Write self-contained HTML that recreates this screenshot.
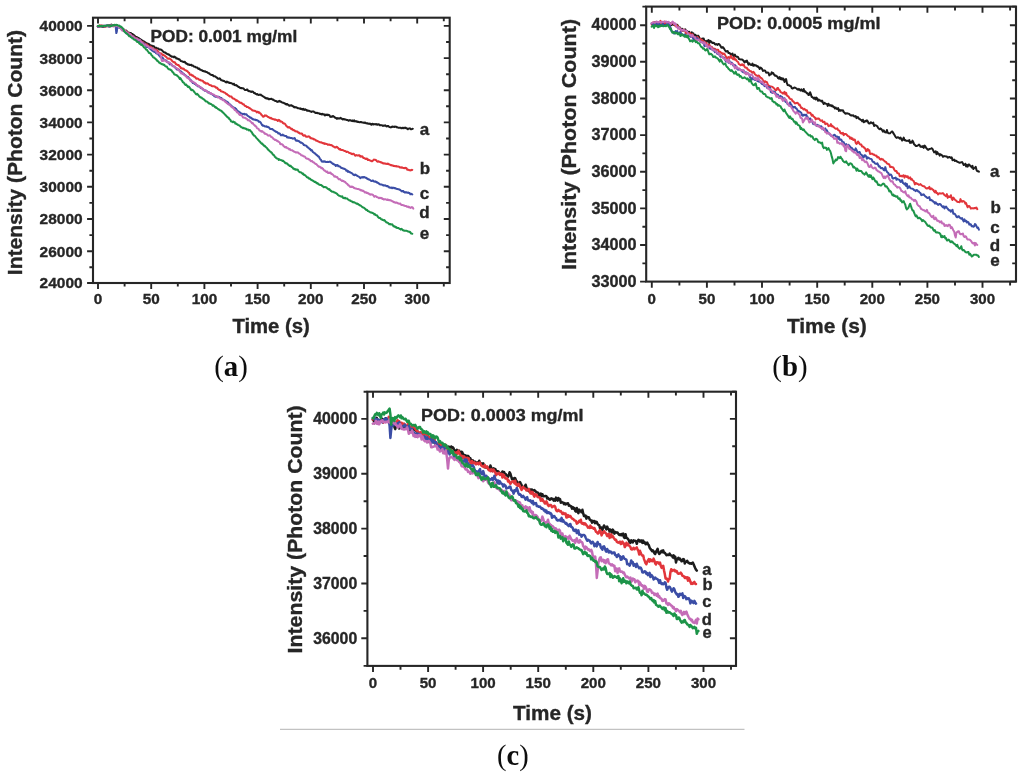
<!DOCTYPE html>
<html><head><meta charset="utf-8"><title>POD intensity decay</title>
<style>html,body{margin:0;padding:0;background:#fff;overflow:hidden}svg{display:block}.s{font-family:"Liberation Sans",sans-serif;font-weight:bold}.r{font-family:"Liberation Serif",serif}</style>
</head><body>
<svg width="1024" height="774" viewBox="0 0 1024 774">
<rect width="1024" height="774" fill="#fff"/>
<defs><filter id="soft" x="0" y="0" width="1024" height="774" filterUnits="userSpaceOnUse"><feGaussianBlur stdDeviation="0.45"/></filter></defs>
<g filter="url(#soft)">
<g id="pa">
<rect x="93.0" y="17.7" width="356.7" height="265.3" fill="none" stroke="#262626" stroke-width="2.10"/>
<path d="M98.0 283.0v5.9M98.0 17.7v5.9M151.2 283.0v5.9M151.2 17.7v5.9M204.4 283.0v5.9M204.4 17.7v5.9M257.6 283.0v5.9M257.6 17.7v5.9M310.8 283.0v5.9M310.8 17.7v5.9M364.0 283.0v5.9M364.0 17.7v5.9M417.2 283.0v5.9M417.2 17.7v5.9M124.6 283.0v3.6M124.6 17.7v3.6M177.8 283.0v3.6M177.8 17.7v3.6M231.0 283.0v3.6M231.0 17.7v3.6M284.2 283.0v3.6M284.2 17.7v3.6M337.4 283.0v3.6M337.4 17.7v3.6M390.6 283.0v3.6M390.6 17.7v3.6M443.8 283.0v3.6M443.8 17.7v3.6M93.0 283.0h-5.9M449.7 283.0h-5.9M93.0 251.2h-5.9M449.7 251.2h-5.9M93.0 219.0h-5.9M449.7 219.0h-5.9M93.0 186.8h-5.9M449.7 186.8h-5.9M93.0 154.6h-5.9M449.7 154.6h-5.9M93.0 122.4h-5.9M449.7 122.4h-5.9M93.0 90.3h-5.9M449.7 90.3h-5.9M93.0 58.1h-5.9M449.7 58.1h-5.9M93.0 25.9h-5.9M449.7 25.9h-5.9M93.0 267.2h-3.6M449.7 267.2h-3.6M93.0 235.1h-3.6M449.7 235.1h-3.6M93.0 202.9h-3.6M449.7 202.9h-3.6M93.0 170.7h-3.6M449.7 170.7h-3.6M93.0 138.5h-3.6M449.7 138.5h-3.6M93.0 106.3h-3.6M449.7 106.3h-3.6M93.0 74.2h-3.6M449.7 74.2h-3.6M93.0 42.0h-3.6M449.7 42.0h-3.6" stroke="#262626" stroke-width="1.90" fill="none"/>
<text class="s" stroke="#262626" stroke-width="0.35" x="82.6" y="288.4" font-size="15.5" text-anchor="end" fill="#262626" textLength="43.0" lengthAdjust="spacingAndGlyphs">24000</text>
<text class="s" stroke="#262626" stroke-width="0.35" x="82.6" y="256.6" font-size="15.5" text-anchor="end" fill="#262626" textLength="43.0" lengthAdjust="spacingAndGlyphs">26000</text>
<text class="s" stroke="#262626" stroke-width="0.35" x="82.6" y="224.4" font-size="15.5" text-anchor="end" fill="#262626" textLength="43.0" lengthAdjust="spacingAndGlyphs">28000</text>
<text class="s" stroke="#262626" stroke-width="0.35" x="82.6" y="192.2" font-size="15.5" text-anchor="end" fill="#262626" textLength="43.0" lengthAdjust="spacingAndGlyphs">30000</text>
<text class="s" stroke="#262626" stroke-width="0.35" x="82.6" y="160.0" font-size="15.5" text-anchor="end" fill="#262626" textLength="43.0" lengthAdjust="spacingAndGlyphs">32000</text>
<text class="s" stroke="#262626" stroke-width="0.35" x="82.6" y="127.8" font-size="15.5" text-anchor="end" fill="#262626" textLength="43.0" lengthAdjust="spacingAndGlyphs">34000</text>
<text class="s" stroke="#262626" stroke-width="0.35" x="82.6" y="95.7" font-size="15.5" text-anchor="end" fill="#262626" textLength="43.0" lengthAdjust="spacingAndGlyphs">36000</text>
<text class="s" stroke="#262626" stroke-width="0.35" x="82.6" y="63.5" font-size="15.5" text-anchor="end" fill="#262626" textLength="43.0" lengthAdjust="spacingAndGlyphs">38000</text>
<text class="s" stroke="#262626" stroke-width="0.35" x="82.6" y="31.3" font-size="15.5" text-anchor="end" fill="#262626" textLength="43.0" lengthAdjust="spacingAndGlyphs">40000</text>
<text class="s" stroke="#262626" stroke-width="0.35" x="98.0" y="304.3" font-size="15.2" text-anchor="middle" fill="#262626" textLength="8.5" lengthAdjust="spacingAndGlyphs">0</text>
<text class="s" stroke="#262626" stroke-width="0.35" x="151.2" y="304.3" font-size="15.2" text-anchor="middle" fill="#262626" textLength="17.0" lengthAdjust="spacingAndGlyphs">50</text>
<text class="s" stroke="#262626" stroke-width="0.35" x="204.4" y="304.3" font-size="15.2" text-anchor="middle" fill="#262626" textLength="25.5" lengthAdjust="spacingAndGlyphs">100</text>
<text class="s" stroke="#262626" stroke-width="0.35" x="257.6" y="304.3" font-size="15.2" text-anchor="middle" fill="#262626" textLength="25.5" lengthAdjust="spacingAndGlyphs">150</text>
<text class="s" stroke="#262626" stroke-width="0.35" x="310.8" y="304.3" font-size="15.2" text-anchor="middle" fill="#262626" textLength="25.5" lengthAdjust="spacingAndGlyphs">200</text>
<text class="s" stroke="#262626" stroke-width="0.35" x="364.0" y="304.3" font-size="15.2" text-anchor="middle" fill="#262626" textLength="25.5" lengthAdjust="spacingAndGlyphs">250</text>
<text class="s" stroke="#262626" stroke-width="0.35" x="417.2" y="304.3" font-size="15.2" text-anchor="middle" fill="#262626" textLength="25.5" lengthAdjust="spacingAndGlyphs">300</text>
<text class="s" stroke="#262626" stroke-width="0.35" x="21.9" y="275.2" font-size="20.5" text-anchor="start" fill="#262626" textLength="245.2" lengthAdjust="spacingAndGlyphs" transform="rotate(-90 21.9 275.2)">Intensity (Photon Count)</text>
<text class="s" stroke="#262626" stroke-width="0.35" x="232.4" y="332.7" font-size="19.5" text-anchor="start" fill="#262626" textLength="77.5" lengthAdjust="spacingAndGlyphs">Time (s)</text>
<text class="s" stroke="#262626" stroke-width="0.35" x="150.6" y="41.7" font-size="16.2" text-anchor="start" fill="#262626" textLength="146.6" lengthAdjust="spacingAndGlyphs">POD: 0.001 mg/ml</text>
<path d="M97.8,26.7 L98.3,26.9 L98.8,26.9 L99.3,26.4 L99.8,26.3 L100.3,26.4 L100.8,26.5 L101.3,26.4 L101.8,26.5 L102.3,26.9 L102.8,26.6 L103.3,26.5 L103.8,26.9 L104.3,26.2 L104.8,26.3 L105.3,26.3 L105.8,26.4 L106.3,26.2 L106.8,25.7 L107.3,25.4 L107.8,25.5 L108.3,25.5 L108.8,25.5 L109.3,25.0 L109.8,25.0 L110.3,25.4 L110.8,25.3 L111.3,24.5 L111.8,25.1 L112.3,25.2 L112.8,25.4 L113.3,25.1 L113.8,26.0 L114.3,25.7 L114.8,25.0 L115.3,25.2 L115.8,25.4 L116.3,25.3 L116.8,25.1 L117.3,26.0 L117.8,26.3 L118.3,26.9 L118.8,26.9 L119.3,27.0 L119.8,27.4 L120.3,27.5 L120.8,27.5 L121.3,27.8 L121.8,28.8 L122.3,29.1 L122.8,29.4 L123.3,29.0 L123.8,29.6 L124.3,30.3 L124.8,30.7 L125.3,31.2 L125.8,30.7 L126.3,30.6 L126.8,31.2 L127.3,31.7 L127.8,32.6 L128.3,32.9 L128.8,32.8 L129.3,32.8 L129.8,33.0 L130.3,32.9 L130.8,32.9 L131.3,33.7 L131.8,34.0 L132.3,33.9 L132.8,34.3 L133.3,35.0 L133.8,35.0 L134.3,35.5 L134.8,36.0 L135.3,36.5 L135.8,37.0 L136.3,37.0 L136.8,37.1 L137.3,37.4 L137.8,37.8 L138.3,37.9 L138.8,38.0 L139.3,38.8 L139.8,39.1 L140.3,39.1 L140.8,39.6 L141.3,39.9 L141.8,40.4 L142.3,40.5 L142.8,41.1 L143.3,41.4 L143.8,41.3 L144.3,41.6 L144.8,42.1 L145.3,42.4 L145.8,42.8 L146.3,42.9 L146.8,43.4 L147.3,43.5 L147.8,43.6 L148.3,44.0 L148.8,44.1 L149.3,44.3 L149.8,45.1 L150.3,45.1 L150.8,45.8 L151.3,46.0 L151.8,45.6 L152.3,46.0 L152.8,46.2 L153.3,46.4 L153.8,46.2 L154.3,46.7 L154.8,47.6 L155.3,48.0 L155.8,47.9 L156.3,47.8 L156.8,48.3 L157.3,48.6 L157.8,48.4 L158.3,48.4 L158.8,49.0 L159.3,49.5 L159.8,49.4 L160.3,49.6 L160.8,49.4 L161.3,49.9 L161.8,50.3 L162.3,50.5 L162.8,51.3 L163.3,51.7 L163.8,52.2 L164.3,52.2 L164.8,52.6 L165.3,52.5 L165.8,53.0 L166.3,53.5 L166.8,53.5 L167.3,54.3 L167.8,54.3 L168.3,54.3 L168.8,54.3 L169.3,55.1 L169.8,55.4 L170.3,55.5 L170.8,56.1 L171.3,56.2 L171.8,56.7 L172.3,56.5 L172.8,56.8 L173.3,56.7 L173.8,57.3 L174.3,56.5 L174.8,57.1 L175.3,57.3 L175.8,57.5 L176.3,58.6 L176.8,58.5 L177.3,58.4 L177.8,58.8 L178.3,59.2 L178.8,59.5 L179.3,59.3 L179.8,59.8 L180.3,60.2 L180.8,61.1 L181.3,61.0 L181.8,61.3 L182.3,61.4 L182.8,61.8 L183.3,61.7 L183.8,62.1 L184.3,62.0 L184.8,61.8 L185.3,62.8 L185.8,62.7 L186.3,63.7 L186.8,63.8 L187.3,63.7 L187.8,64.5 L188.3,64.2 L188.8,64.6 L189.3,65.0 L189.8,64.8 L190.3,65.0 L190.8,65.1 L191.3,64.7 L191.8,65.6 L192.3,65.4 L192.8,65.4 L193.3,66.1 L193.8,66.6 L194.3,66.5 L194.8,66.8 L195.3,66.8 L195.8,67.4 L196.3,67.4 L196.8,67.4 L197.3,67.7 L197.8,68.3 L198.3,68.8 L198.8,68.9 L199.3,68.6 L199.8,69.5 L200.3,69.4 L200.8,69.9 L201.3,70.3 L201.8,70.3 L202.3,70.5 L202.8,71.1 L203.3,70.9 L203.8,70.9 L204.3,71.6 L204.8,71.4 L205.3,71.3 L205.8,72.0 L206.3,72.0 L206.8,72.0 L207.3,72.4 L207.8,72.8 L208.3,73.2 L208.8,73.5 L209.3,73.2 L209.8,74.0 L210.3,74.4 L210.8,74.6 L211.3,75.0 L211.8,75.0 L212.3,75.0 L212.8,75.1 L213.3,76.0 L213.8,76.2 L214.3,76.2 L214.8,76.2 L215.3,76.5 L215.8,76.9 L216.3,77.4 L216.8,77.5 L217.3,78.0 L217.8,78.8 L218.3,78.8 L218.8,78.6 L219.3,78.8 L219.8,78.4 L220.3,78.9 L220.8,79.8 L221.3,80.3 L221.8,80.3 L222.3,80.4 L222.8,80.8 L223.3,80.8 L223.8,81.0 L224.3,81.0 L224.8,81.5 L225.3,81.8 L225.8,82.1 L226.3,82.5 L226.8,81.6 L227.3,82.2 L227.8,81.9 L228.3,82.4 L228.8,82.5 L229.3,82.9 L229.8,82.8 L230.3,82.9 L230.8,83.0 L231.3,83.2 L231.8,83.4 L232.3,83.7 L232.8,83.9 L233.3,84.5 L233.8,83.7 L234.3,84.4 L234.8,85.1 L235.3,85.3 L235.8,85.2 L236.3,85.1 L236.8,85.8 L237.3,85.7 L237.8,86.3 L238.3,86.9 L238.8,86.9 L239.3,87.2 L239.8,87.6 L240.3,88.0 L240.8,88.0 L241.3,88.2 L241.8,88.0 L242.3,88.3 L242.8,88.2 L243.3,88.4 L243.8,88.8 L244.3,89.4 L244.8,89.9 L245.3,90.0 L245.8,90.1 L246.3,90.0 L246.8,89.6 L247.3,89.5 L247.8,90.1 L248.3,91.1 L248.8,90.9 L249.3,91.0 L249.8,91.3 L250.3,91.5 L250.8,91.4 L251.3,92.0 L251.8,91.5 L252.3,91.6 L252.8,91.7 L253.3,91.9 L253.8,92.8 L254.3,93.1 L254.8,92.9 L255.3,93.7 L255.8,93.9 L256.3,94.0 L256.8,94.4 L257.3,94.0 L257.8,94.6 L258.3,94.9 L258.8,95.1 L259.3,94.6 L259.8,94.8 L260.3,94.8 L260.8,94.6 L261.3,95.3 L261.8,95.5 L262.3,95.8 L262.8,96.1 L263.3,96.6 L263.8,96.8 L264.3,97.1 L264.8,97.6 L265.3,98.0 L265.8,97.7 L266.3,98.6 L266.8,98.5 L267.3,98.2 L267.8,98.4 L268.3,99.1 L268.8,98.7 L269.3,99.2 L269.8,99.2 L270.3,98.9 L270.8,99.0 L271.3,98.8 L271.8,99.0 L272.3,99.3 L272.8,99.8 L273.3,99.6 L273.8,100.2 L274.3,100.5 L274.8,100.6 L275.3,101.1 L275.8,100.9 L276.3,101.2 L276.8,101.5 L277.3,101.9 L277.8,101.7 L278.3,101.8 L278.8,101.0 L279.3,101.1 L279.8,100.9 L280.3,101.8 L280.8,101.8 L281.3,101.7 L281.8,102.2 L282.3,102.6 L282.8,102.7 L283.3,102.7 L283.8,103.0 L284.3,103.2 L284.8,103.6 L285.3,103.6 L285.8,104.3 L286.3,104.0 L286.8,104.6 L287.3,104.0 L287.8,104.7 L288.3,104.9 L288.8,105.1 L289.3,105.8 L289.8,105.8 L290.3,105.4 L290.8,105.3 L291.3,105.3 L291.8,105.5 L292.3,106.0 L292.8,106.0 L293.3,106.6 L293.8,107.1 L294.3,106.8 L294.8,107.4 L295.3,107.3 L295.8,107.1 L296.3,107.5 L296.8,107.6 L297.3,107.9 L297.8,108.3 L298.3,108.2 L298.8,108.3 L299.3,108.4 L299.8,108.7 L300.3,108.4 L300.8,109.0 L301.3,108.8 L301.8,109.2 L302.3,109.1 L302.8,109.7 L303.3,108.8 L303.8,109.1 L304.3,109.8 L304.8,109.9 L305.3,109.4 L305.8,109.8 L306.3,110.0 L306.8,110.6 L307.3,110.8 L307.8,110.4 L308.3,110.9 L308.8,110.7 L309.3,110.9 L309.8,111.1 L310.3,111.5 L310.8,111.4 L311.3,111.9 L311.8,111.5 L312.3,111.6 L312.8,111.5 L313.3,111.5 L313.8,111.6 L314.3,112.2 L314.8,112.2 L315.3,112.9 L315.8,113.1 L316.3,112.9 L316.8,112.8 L317.3,113.0 L317.8,113.2 L318.3,113.2 L318.8,113.3 L319.3,113.5 L319.8,113.9 L320.3,113.9 L320.8,113.8 L321.3,114.3 L321.8,114.4 L322.3,113.8 L322.8,114.3 L323.3,114.6 L323.8,114.2 L324.3,114.4 L324.8,115.4 L325.3,115.3 L325.8,114.6 L326.3,114.8 L326.8,115.0 L327.3,114.6 L327.8,115.1 L328.3,114.8 L328.8,114.9 L329.3,115.3 L329.8,115.8 L330.3,116.9 L330.8,116.7 L331.3,116.7 L331.8,116.9 L332.3,116.1 L332.8,116.4 L333.3,116.0 L333.8,116.8 L334.3,116.8 L334.8,117.6 L335.3,117.6 L335.8,118.0 L336.3,118.1 L336.8,118.8 L337.3,118.7 L337.8,118.0 L338.3,118.4 L338.8,118.5 L339.3,118.4 L339.8,118.5 L340.3,117.9 L340.8,118.3 L341.3,118.2 L341.8,118.8 L342.3,119.0 L342.8,119.4 L343.3,119.0 L343.8,119.1 L344.3,119.4 L344.8,119.3 L345.3,119.4 L345.8,119.5 L346.3,119.9 L346.8,120.1 L347.3,120.1 L347.8,120.0 L348.3,120.7 L348.8,120.7 L349.3,120.3 L349.8,120.0 L350.3,120.3 L350.8,120.5 L351.3,120.7 L351.8,121.0 L352.3,120.5 L352.8,120.4 L353.3,121.2 L353.8,120.7 L354.3,120.4 L354.8,121.4 L355.3,121.4 L355.8,121.2 L356.3,121.3 L356.8,121.7 L357.3,121.5 L357.8,121.9 L358.3,121.8 L358.8,122.1 L359.3,122.2 L359.8,122.3 L360.3,122.2 L360.8,121.9 L361.3,122.0 L361.8,122.3 L362.3,122.6 L362.8,122.6 L363.3,122.5 L363.8,122.8 L364.3,122.9 L364.8,122.6 L365.3,122.6 L365.8,123.2 L366.3,123.2 L366.8,123.5 L367.3,123.2 L367.8,123.5 L368.3,123.8 L368.8,123.6 L369.3,123.7 L369.8,124.0 L370.3,123.8 L370.8,123.8 L371.3,124.7 L371.8,124.5 L372.3,123.7 L372.8,124.1 L373.3,124.5 L373.8,124.0 L374.3,124.2 L374.8,124.3 L375.3,124.1 L375.8,124.4 L376.3,124.4 L376.8,124.0 L377.3,124.8 L377.8,124.5 L378.3,124.5 L378.8,124.3 L379.3,124.6 L379.8,125.3 L380.3,125.3 L380.8,125.1 L381.3,125.3 L381.8,125.2 L382.3,125.4 L382.8,125.9 L383.3,125.6 L383.8,125.7 L384.3,125.8 L384.8,125.4 L385.3,125.3 L385.8,125.9 L386.3,126.3 L386.8,126.4 L387.3,126.2 L387.8,125.9 L388.3,126.0 L388.8,126.6 L389.3,126.9 L389.8,126.9 L390.3,127.4 L390.8,127.2 L391.3,127.3 L391.8,126.8 L392.3,126.6 L392.8,126.9 L393.3,126.7 L393.8,126.8 L394.3,127.0 L394.8,126.5 L395.3,126.8 L395.8,126.6 L396.3,126.9 L396.8,127.4 L397.3,127.2 L397.8,127.5 L398.3,127.8 L398.8,127.7 L399.3,127.7 L399.8,127.7 L400.3,127.7 L400.8,127.7 L401.3,128.3 L401.8,128.3 L402.3,128.0 L402.8,127.8 L403.3,128.0 L403.8,128.3 L404.3,127.7 L404.8,127.7 L405.3,128.0 L405.8,127.8 L406.3,128.3 L406.8,128.5 L407.3,128.5 L407.8,129.3 L408.3,128.8 L408.8,128.6 L409.3,128.6 L409.8,128.3 L410.3,128.8 L410.8,129.2 L411.3,129.3 L411.8,129.1 L412.3,129.0 L412.8,128.7" fill="none" stroke="#1d1d1d" stroke-width="2.00" stroke-linejoin="round" stroke-linecap="round"/>
<path d="M97.8,26.2 L98.3,26.6 L98.8,26.3 L99.3,26.2 L99.8,25.4 L100.3,25.7 L100.8,25.5 L101.3,25.6 L101.8,25.9 L102.3,25.6 L102.8,25.7 L103.3,26.4 L103.8,26.5 L104.3,26.9 L104.8,26.8 L105.3,26.2 L105.8,25.9 L106.3,25.9 L106.8,26.1 L107.3,26.4 L107.8,26.1 L108.3,25.6 L108.8,25.9 L109.3,26.2 L109.8,26.6 L110.3,26.2 L110.8,25.8 L111.3,25.4 L111.8,25.3 L112.3,25.5 L112.8,26.3 L113.3,26.2 L113.8,25.7 L114.3,25.8 L114.8,24.8 L115.3,25.1 L115.8,25.6 L116.3,25.3 L116.8,25.8 L117.3,25.7 L117.8,25.9 L118.3,26.0 L118.8,26.6 L119.3,27.0 L119.8,27.1 L120.3,27.8 L120.8,27.9 L121.3,27.8 L121.8,28.5 L122.3,28.7 L122.8,28.8 L123.3,29.5 L123.8,30.0 L124.3,30.2 L124.8,30.3 L125.3,31.2 L125.8,31.1 L126.3,31.6 L126.8,32.3 L127.3,32.3 L127.8,32.6 L128.3,33.0 L128.8,33.6 L129.3,33.5 L129.8,33.8 L130.3,34.1 L130.8,34.8 L131.3,35.3 L131.8,35.6 L132.3,36.4 L132.8,36.0 L133.3,36.1 L133.8,36.9 L134.3,37.1 L134.8,37.7 L135.3,38.3 L135.8,37.9 L136.3,38.5 L136.8,38.6 L137.3,39.0 L137.8,39.8 L138.3,39.7 L138.8,40.1 L139.3,39.9 L139.8,40.9 L140.3,40.8 L140.8,41.2 L141.3,41.5 L141.8,42.3 L142.3,42.5 L142.8,42.1 L143.3,42.5 L143.8,43.0 L144.3,43.3 L144.8,43.9 L145.3,43.7 L145.8,44.1 L146.3,44.5 L146.8,45.0 L147.3,44.6 L147.8,45.7 L148.3,46.4 L148.8,46.6 L149.3,46.8 L149.8,46.5 L150.3,46.4 L150.8,46.9 L151.3,47.2 L151.8,47.6 L152.3,48.1 L152.8,48.7 L153.3,49.1 L153.8,49.4 L154.3,49.7 L154.8,49.6 L155.3,49.4 L155.8,49.4 L156.3,49.9 L156.8,50.2 L157.3,50.5 L157.8,51.1 L158.3,52.3 L158.8,52.3 L159.3,53.1 L159.8,53.3 L160.3,53.3 L160.8,53.4 L161.3,53.4 L161.8,54.2 L162.3,54.4 L162.8,55.0 L163.3,54.9 L163.8,55.3 L164.3,55.5 L164.8,55.7 L165.3,56.3 L165.8,56.6 L166.3,57.0 L166.8,57.6 L167.3,58.1 L167.8,58.7 L168.3,58.7 L168.8,58.5 L169.3,58.4 L169.8,58.7 L170.3,59.1 L170.8,59.4 L171.3,59.9 L171.8,60.5 L172.3,61.1 L172.8,61.7 L173.3,61.7 L173.8,62.2 L174.3,62.4 L174.8,62.2 L175.3,62.8 L175.8,64.2 L176.3,64.4 L176.8,64.3 L177.3,65.0 L177.8,64.9 L178.3,65.0 L178.8,65.2 L179.3,66.4 L179.8,66.6 L180.3,66.9 L180.8,68.0 L181.3,68.1 L181.8,68.2 L182.3,68.7 L182.8,68.5 L183.3,68.7 L183.8,68.8 L184.3,69.7 L184.8,69.9 L185.3,70.2 L185.8,70.4 L186.3,70.4 L186.8,71.0 L187.3,71.0 L187.8,71.7 L188.3,72.2 L188.8,72.8 L189.3,73.0 L189.8,74.7 L190.3,74.5 L190.8,74.8 L191.3,74.5 L191.8,75.4 L192.3,75.7 L192.8,75.4 L193.3,76.1 L193.8,76.5 L194.3,76.7 L194.8,76.8 L195.3,77.4 L195.8,78.0 L196.3,78.8 L196.8,78.6 L197.3,78.4 L197.8,78.8 L198.3,78.7 L198.8,79.5 L199.3,79.8 L199.8,79.9 L200.3,79.8 L200.8,80.4 L201.3,80.5 L201.8,80.6 L202.3,80.8 L202.8,80.7 L203.3,81.8 L203.8,82.0 L204.3,82.8 L204.8,82.4 L205.3,83.1 L205.8,83.6 L206.3,83.3 L206.8,83.4 L207.3,83.3 L207.8,83.7 L208.3,83.8 L208.8,84.5 L209.3,84.8 L209.8,85.1 L210.3,85.2 L210.8,85.2 L211.3,85.4 L211.8,86.1 L212.3,86.2 L212.8,86.2 L213.3,86.2 L213.8,86.2 L214.3,86.5 L214.8,86.5 L215.3,87.1 L215.8,87.7 L216.3,87.6 L216.8,87.5 L217.3,87.8 L217.8,89.0 L218.3,89.2 L218.8,89.5 L219.3,90.1 L219.8,90.1 L220.3,90.0 L220.8,91.2 L221.3,91.3 L221.8,91.4 L222.3,91.8 L222.8,91.8 L223.3,91.9 L223.8,92.3 L224.3,92.6 L224.8,92.7 L225.3,92.9 L225.8,93.6 L226.3,94.0 L226.8,94.0 L227.3,94.6 L227.8,95.0 L228.3,95.2 L228.8,95.7 L229.3,95.9 L229.8,96.5 L230.3,96.6 L230.8,96.5 L231.3,96.5 L231.8,97.1 L232.3,97.8 L232.8,98.5 L233.3,98.4 L233.8,98.7 L234.3,98.8 L234.8,99.5 L235.3,99.5 L235.8,100.0 L236.3,100.8 L236.8,100.3 L237.3,100.8 L237.8,101.1 L238.3,101.3 L238.8,101.6 L239.3,102.4 L239.8,102.6 L240.3,102.9 L240.8,102.7 L241.3,102.7 L241.8,103.3 L242.3,103.8 L242.8,104.2 L243.3,104.2 L243.8,104.3 L244.3,105.1 L244.8,105.8 L245.3,105.9 L245.8,105.9 L246.3,106.4 L246.8,107.1 L247.3,107.0 L247.8,107.1 L248.3,107.3 L248.8,107.8 L249.3,108.0 L249.8,108.2 L250.3,108.7 L250.8,109.0 L251.3,109.3 L251.8,109.7 L252.3,110.3 L252.8,110.6 L253.3,110.6 L253.8,110.7 L254.3,110.8 L254.8,110.7 L255.3,111.2 L255.8,111.5 L256.3,111.4 L256.8,112.4 L257.3,111.8 L257.8,111.7 L258.3,112.1 L258.8,112.8 L259.3,112.4 L259.8,113.0 L260.3,113.4 L260.8,113.8 L261.3,114.8 L261.8,115.0 L262.3,115.7 L262.8,116.5 L263.3,116.8 L263.8,116.6 L264.3,116.0 L264.8,115.3 L265.3,115.8 L265.8,115.6 L266.3,115.6 L266.8,116.0 L267.3,116.4 L267.8,116.9 L268.3,116.9 L268.8,117.1 L269.3,117.7 L269.8,117.9 L270.3,118.2 L270.8,117.7 L271.3,118.4 L271.8,118.8 L272.3,118.8 L272.8,119.0 L273.3,119.2 L273.8,119.2 L274.3,119.5 L274.8,119.7 L275.3,119.6 L275.8,119.6 L276.3,120.1 L276.8,119.9 L277.3,120.4 L277.8,121.0 L278.3,120.5 L278.8,119.9 L279.3,120.2 L279.8,120.5 L280.3,121.6 L280.8,121.3 L281.3,121.6 L281.8,121.7 L282.3,122.1 L282.8,122.9 L283.3,123.3 L283.8,123.6 L284.3,123.4 L284.8,123.8 L285.3,124.2 L285.8,125.1 L286.3,125.9 L286.8,126.1 L287.3,126.8 L287.8,127.4 L288.3,127.4 L288.8,127.0 L289.3,127.2 L289.8,127.6 L290.3,128.2 L290.8,128.5 L291.3,129.1 L291.8,128.6 L292.3,129.4 L292.8,129.7 L293.3,130.2 L293.8,130.1 L294.3,130.3 L294.8,130.8 L295.3,131.3 L295.8,131.3 L296.3,131.5 L296.8,131.4 L297.3,131.5 L297.8,132.0 L298.3,132.7 L298.8,132.5 L299.3,133.1 L299.8,133.5 L300.3,133.4 L300.8,133.4 L301.3,133.8 L301.8,133.5 L302.3,134.0 L302.8,135.1 L303.3,135.5 L303.8,135.8 L304.3,135.3 L304.8,135.3 L305.3,135.4 L305.8,136.5 L306.3,136.8 L306.8,136.8 L307.3,136.8 L307.8,136.7 L308.3,136.3 L308.8,136.6 L309.3,136.6 L309.8,136.9 L310.3,138.0 L310.8,138.2 L311.3,138.1 L311.8,138.6 L312.3,138.6 L312.8,138.5 L313.3,139.1 L313.8,139.4 L314.3,139.3 L314.8,139.5 L315.3,139.8 L315.8,140.1 L316.3,140.8 L316.8,140.7 L317.3,140.9 L317.8,141.3 L318.3,141.4 L318.8,141.7 L319.3,141.9 L319.8,142.3 L320.3,142.3 L320.8,142.4 L321.3,142.3 L321.8,142.7 L322.3,142.8 L322.8,143.2 L323.3,143.5 L323.8,143.0 L324.3,143.5 L324.8,143.9 L325.3,143.5 L325.8,143.8 L326.3,143.9 L326.8,144.1 L327.3,144.2 L327.8,144.8 L328.3,144.7 L328.8,144.6 L329.3,144.5 L329.8,144.9 L330.3,145.2 L330.8,144.9 L331.3,145.1 L331.8,145.2 L332.3,145.7 L332.8,146.2 L333.3,146.3 L333.8,146.6 L334.3,147.2 L334.8,147.3 L335.3,147.5 L335.8,147.6 L336.3,146.8 L336.8,147.0 L337.3,147.1 L337.8,147.6 L338.3,148.3 L338.8,148.8 L339.3,149.4 L339.8,149.0 L340.3,149.1 L340.8,149.9 L341.3,150.1 L341.8,150.1 L342.3,149.9 L342.8,150.0 L343.3,150.4 L343.8,150.6 L344.3,150.9 L344.8,151.0 L345.3,151.0 L345.8,151.3 L346.3,152.0 L346.8,151.9 L347.3,151.7 L347.8,151.9 L348.3,152.1 L348.8,152.7 L349.3,152.9 L349.8,153.1 L350.3,153.2 L350.8,153.3 L351.3,153.9 L351.8,153.8 L352.3,154.2 L352.8,153.8 L353.3,153.8 L353.8,153.8 L354.3,154.4 L354.8,155.3 L355.3,155.7 L355.8,155.3 L356.3,155.0 L356.8,155.3 L357.3,155.5 L357.8,155.6 L358.3,155.5 L358.8,155.3 L359.3,155.2 L359.8,155.9 L360.3,156.6 L360.8,156.0 L361.3,156.4 L361.8,156.7 L362.3,156.3 L362.8,157.2 L363.3,157.9 L363.8,158.0 L364.3,158.1 L364.8,158.6 L365.3,158.5 L365.8,159.0 L366.3,159.0 L366.8,158.5 L367.3,159.1 L367.8,159.9 L368.3,159.6 L368.8,159.9 L369.3,160.0 L369.8,160.3 L370.3,160.6 L370.8,160.8 L371.3,161.0 L371.8,161.3 L372.3,161.2 L372.8,160.6 L373.3,160.2 L373.8,159.6 L374.3,159.7 L374.8,159.8 L375.3,159.7 L375.8,160.1 L376.3,160.3 L376.8,161.2 L377.3,161.2 L377.8,161.7 L378.3,161.2 L378.8,161.5 L379.3,161.8 L379.8,161.7 L380.3,162.1 L380.8,162.4 L381.3,162.2 L381.8,162.7 L382.3,162.8 L382.8,163.3 L383.3,163.4 L383.8,163.3 L384.3,163.6 L384.8,163.3 L385.3,163.8 L385.8,163.7 L386.3,163.8 L386.8,163.9 L387.3,163.9 L387.8,163.5 L388.3,164.0 L388.8,164.3 L389.3,164.3 L389.8,164.6 L390.3,164.9 L390.8,165.0 L391.3,165.4 L391.8,165.2 L392.3,165.5 L392.8,165.6 L393.3,165.9 L393.8,165.8 L394.3,165.9 L394.8,166.2 L395.3,166.1 L395.8,166.3 L396.3,166.0 L396.8,166.5 L397.3,166.4 L397.8,166.6 L398.3,166.6 L398.8,166.7 L399.3,166.7 L399.8,167.5 L400.3,167.6 L400.8,167.3 L401.3,167.7 L401.8,167.3 L402.3,167.4 L402.8,167.9 L403.3,168.1 L403.8,167.9 L404.3,168.3 L404.8,167.9 L405.3,167.8 L405.8,168.3 L406.3,168.0 L406.8,168.7 L407.3,169.7 L407.8,169.5 L408.3,169.8 L408.8,169.9 L409.3,170.3 L409.8,170.2 L410.3,170.3 L410.8,170.4 L411.3,170.1 L411.8,169.8 L412.3,169.9" fill="none" stroke="#e2363a" stroke-width="2.00" stroke-linejoin="round" stroke-linecap="round"/>
<path d="M97.8,26.6 L98.3,26.3 L98.8,26.4 L99.3,26.1 L99.8,25.9 L100.3,26.0 L100.8,26.0 L101.3,26.0 L101.8,25.8 L102.3,26.1 L102.8,26.6 L103.3,26.5 L103.8,26.5 L104.3,26.2 L104.8,25.9 L105.3,25.6 L105.8,25.4 L106.3,25.8 L106.8,25.7 L107.3,25.6 L107.8,25.5 L108.3,25.9 L108.8,26.6 L109.3,26.2 L109.8,26.1 L110.3,25.7 L110.8,26.4 L111.3,25.7 L111.8,25.8 L112.3,25.7 L112.8,25.5 L113.3,25.7 L113.8,25.1 L114.3,25.5 L114.8,25.3 L115.3,25.4 L115.8,27.7 L116.3,33.1 L116.8,31.6 L117.3,27.3 L117.8,26.9 L118.3,27.2 L118.8,27.4 L119.3,27.8 L119.8,27.8 L120.3,28.1 L120.8,28.0 L121.3,28.3 L121.8,28.3 L122.3,28.4 L122.8,28.8 L123.3,29.5 L123.8,30.4 L124.3,30.8 L124.8,31.5 L125.3,31.7 L125.8,32.9 L126.3,33.4 L126.8,33.1 L127.3,33.3 L127.8,34.2 L128.3,34.1 L128.8,34.8 L129.3,35.3 L129.8,35.4 L130.3,35.6 L130.8,36.0 L131.3,36.6 L131.8,36.3 L132.3,36.2 L132.8,36.5 L133.3,36.7 L133.8,37.2 L134.3,37.6 L134.8,38.0 L135.3,38.7 L135.8,39.0 L136.3,39.2 L136.8,39.4 L137.3,39.7 L137.8,40.2 L138.3,40.4 L138.8,40.9 L139.3,41.3 L139.8,41.7 L140.3,41.5 L140.8,41.9 L141.3,42.2 L141.8,42.4 L142.3,43.0 L142.8,42.9 L143.3,43.5 L143.8,43.8 L144.3,43.8 L144.8,44.4 L145.3,45.1 L145.8,45.8 L146.3,46.0 L146.8,46.9 L147.3,46.6 L147.8,47.1 L148.3,47.0 L148.8,47.5 L149.3,47.7 L149.8,48.3 L150.3,49.0 L150.8,49.4 L151.3,49.8 L151.8,50.2 L152.3,50.6 L152.8,51.0 L153.3,51.3 L153.8,51.6 L154.3,51.8 L154.8,52.0 L155.3,52.0 L155.8,52.8 L156.3,53.5 L156.8,53.2 L157.3,53.3 L157.8,53.9 L158.3,54.4 L158.8,55.1 L159.3,55.6 L159.8,56.3 L160.3,56.9 L160.8,57.2 L161.3,57.3 L161.8,57.7 L162.3,57.4 L162.8,58.0 L163.3,58.9 L163.8,59.3 L164.3,59.9 L164.8,60.2 L165.3,60.3 L165.8,60.2 L166.3,60.8 L166.8,61.9 L167.3,61.5 L167.8,62.3 L168.3,62.5 L168.8,62.6 L169.3,63.7 L169.8,64.4 L170.3,64.1 L170.8,63.9 L171.3,64.1 L171.8,64.9 L172.3,65.6 L172.8,66.0 L173.3,66.2 L173.8,66.4 L174.3,66.6 L174.8,67.0 L175.3,67.5 L175.8,68.4 L176.3,68.6 L176.8,69.3 L177.3,69.6 L177.8,69.3 L178.3,69.8 L178.8,69.7 L179.3,70.0 L179.8,70.7 L180.3,71.4 L180.8,71.2 L181.3,72.2 L181.8,72.1 L182.3,72.6 L182.8,73.6 L183.3,73.4 L183.8,73.9 L184.3,74.5 L184.8,74.8 L185.3,75.3 L185.8,75.6 L186.3,76.2 L186.8,76.4 L187.3,77.2 L187.8,77.3 L188.3,77.1 L188.8,78.3 L189.3,78.3 L189.8,79.2 L190.3,80.0 L190.8,80.1 L191.3,80.9 L191.8,81.5 L192.3,82.0 L192.8,82.9 L193.3,82.8 L193.8,83.2 L194.3,83.4 L194.8,84.0 L195.3,84.1 L195.8,84.4 L196.3,85.1 L196.8,85.2 L197.3,85.7 L197.8,86.3 L198.3,86.2 L198.8,86.1 L199.3,86.6 L199.8,87.1 L200.3,87.4 L200.8,88.0 L201.3,88.2 L201.8,88.4 L202.3,88.6 L202.8,88.7 L203.3,89.7 L203.8,89.9 L204.3,90.3 L204.8,90.8 L205.3,90.5 L205.8,90.5 L206.3,91.0 L206.8,91.3 L207.3,91.8 L207.8,92.4 L208.3,92.4 L208.8,92.0 L209.3,92.7 L209.8,92.8 L210.3,93.4 L210.8,93.5 L211.3,93.8 L211.8,94.2 L212.3,94.5 L212.8,94.8 L213.3,95.1 L213.8,95.4 L214.3,96.2 L214.8,96.4 L215.3,96.7 L215.8,96.5 L216.3,96.5 L216.8,96.7 L217.3,96.8 L217.8,97.3 L218.3,96.7 L218.8,96.8 L219.3,97.4 L219.8,97.3 L220.3,98.0 L220.8,98.0 L221.3,98.1 L221.8,98.5 L222.3,99.0 L222.8,99.4 L223.3,99.7 L223.8,99.8 L224.3,100.2 L224.8,100.4 L225.3,100.6 L225.8,101.2 L226.3,101.5 L226.8,101.7 L227.3,101.9 L227.8,102.4 L228.3,102.8 L228.8,103.5 L229.3,104.5 L229.8,104.2 L230.3,104.6 L230.8,105.2 L231.3,105.7 L231.8,106.4 L232.3,106.5 L232.8,107.2 L233.3,107.3 L233.8,108.1 L234.3,108.3 L234.8,107.8 L235.3,108.2 L235.8,109.0 L236.3,109.1 L236.8,110.1 L237.3,110.8 L237.8,111.2 L238.3,111.2 L238.8,111.7 L239.3,112.2 L239.8,112.4 L240.3,112.7 L240.8,113.5 L241.3,113.6 L241.8,113.6 L242.3,113.9 L242.8,113.9 L243.3,114.2 L243.8,113.9 L244.3,113.7 L244.8,114.5 L245.3,114.2 L245.8,114.4 L246.3,114.3 L246.8,114.8 L247.3,115.5 L247.8,115.9 L248.3,116.2 L248.8,116.5 L249.3,116.9 L249.8,117.3 L250.3,117.8 L250.8,117.6 L251.3,118.0 L251.8,118.5 L252.3,118.9 L252.8,118.8 L253.3,119.6 L253.8,119.5 L254.3,119.5 L254.8,119.8 L255.3,119.6 L255.8,120.2 L256.3,119.9 L256.8,120.2 L257.3,120.3 L257.8,120.6 L258.3,120.9 L258.8,121.8 L259.3,121.6 L259.8,121.8 L260.3,122.1 L260.8,122.8 L261.3,123.6 L261.8,124.6 L262.3,125.3 L262.8,125.7 L263.3,125.6 L263.8,125.6 L264.3,126.1 L264.8,126.4 L265.3,126.4 L265.8,126.4 L266.3,126.2 L266.8,126.7 L267.3,127.1 L267.8,126.8 L268.3,127.3 L268.8,127.4 L269.3,127.8 L269.8,128.6 L270.3,129.0 L270.8,129.1 L271.3,128.9 L271.8,129.2 L272.3,129.1 L272.8,129.5 L273.3,130.0 L273.8,130.3 L274.3,130.6 L274.8,131.0 L275.3,131.2 L275.8,131.8 L276.3,131.8 L276.8,132.0 L277.3,132.2 L277.8,132.7 L278.3,133.5 L278.8,133.2 L279.3,133.5 L279.8,133.6 L280.3,134.3 L280.8,135.2 L281.3,135.0 L281.8,135.3 L282.3,135.0 L282.8,134.6 L283.3,135.3 L283.8,135.6 L284.3,135.5 L284.8,135.8 L285.3,136.1 L285.8,136.1 L286.3,136.1 L286.8,137.0 L287.3,137.6 L287.8,137.5 L288.3,137.2 L288.8,137.7 L289.3,137.5 L289.8,137.7 L290.3,138.0 L290.8,138.1 L291.3,138.1 L291.8,138.0 L292.3,138.4 L292.8,138.7 L293.3,138.6 L293.8,138.6 L294.3,138.1 L294.8,138.2 L295.3,139.5 L295.8,140.4 L296.3,140.8 L296.8,140.5 L297.3,140.5 L297.8,140.7 L298.3,141.1 L298.8,141.0 L299.3,141.5 L299.8,142.1 L300.3,142.2 L300.8,142.7 L301.3,142.6 L301.8,142.9 L302.3,143.2 L302.8,143.6 L303.3,144.0 L303.8,145.1 L304.3,145.1 L304.8,145.2 L305.3,145.6 L305.8,145.6 L306.3,145.7 L306.8,146.4 L307.3,147.1 L307.8,147.6 L308.3,147.4 L308.8,148.1 L309.3,148.7 L309.8,149.1 L310.3,149.1 L310.8,150.3 L311.3,150.5 L311.8,150.1 L312.3,151.0 L312.8,151.9 L313.3,152.3 L313.8,152.7 L314.3,153.0 L314.8,153.4 L315.3,153.5 L315.8,154.3 L316.3,154.7 L316.8,155.2 L317.3,155.3 L317.8,156.0 L318.3,156.5 L318.8,156.6 L319.3,157.5 L319.8,158.5 L320.3,159.3 L320.8,159.6 L321.3,160.5 L321.8,161.5 L322.3,161.4 L322.8,161.8 L323.3,161.8 L323.8,161.3 L324.3,161.3 L324.8,161.8 L325.3,161.6 L325.8,162.0 L326.3,162.0 L326.8,162.1 L327.3,161.9 L327.8,161.8 L328.3,161.9 L328.8,161.9 L329.3,161.8 L329.8,161.6 L330.3,161.7 L330.8,162.3 L331.3,162.3 L331.8,163.0 L332.3,163.3 L332.8,163.9 L333.3,163.8 L333.8,164.2 L334.3,164.6 L334.8,164.7 L335.3,165.2 L335.8,166.0 L336.3,165.1 L336.8,165.4 L337.3,165.1 L337.8,165.2 L338.3,166.2 L338.8,166.2 L339.3,166.3 L339.8,166.6 L340.3,166.8 L340.8,167.6 L341.3,167.8 L341.8,168.1 L342.3,168.1 L342.8,168.4 L343.3,168.5 L343.8,168.5 L344.3,169.1 L344.8,169.1 L345.3,169.3 L345.8,169.8 L346.3,170.7 L346.8,170.7 L347.3,170.6 L347.8,171.8 L348.3,171.2 L348.8,171.5 L349.3,172.2 L349.8,172.0 L350.3,172.3 L350.8,172.7 L351.3,172.9 L351.8,173.1 L352.3,173.6 L352.8,174.0 L353.3,174.8 L353.8,174.9 L354.3,175.2 L354.8,174.7 L355.3,174.5 L355.8,174.9 L356.3,174.9 L356.8,175.7 L357.3,175.7 L357.8,176.1 L358.3,176.4 L358.8,176.6 L359.3,177.1 L359.8,177.5 L360.3,178.2 L360.8,177.4 L361.3,177.3 L361.8,177.5 L362.3,177.5 L362.8,177.0 L363.3,177.5 L363.8,176.9 L364.3,176.9 L364.8,177.4 L365.3,177.7 L365.8,177.8 L366.3,177.8 L366.8,178.6 L367.3,178.5 L367.8,179.0 L368.3,179.2 L368.8,179.2 L369.3,179.7 L369.8,179.9 L370.3,180.1 L370.8,180.6 L371.3,181.1 L371.8,181.1 L372.3,180.7 L372.8,180.5 L373.3,180.7 L373.8,181.5 L374.3,181.4 L374.8,181.7 L375.3,181.4 L375.8,181.9 L376.3,181.7 L376.8,182.5 L377.3,182.2 L377.8,183.0 L378.3,182.9 L378.8,183.6 L379.3,183.7 L379.8,184.2 L380.3,184.4 L380.8,184.6 L381.3,184.5 L381.8,184.5 L382.3,184.9 L382.8,185.1 L383.3,185.5 L383.8,185.3 L384.3,185.6 L384.8,185.3 L385.3,185.5 L385.8,185.7 L386.3,185.9 L386.8,186.3 L387.3,185.9 L387.8,186.2 L388.3,186.7 L388.8,186.8 L389.3,187.6 L389.8,187.5 L390.3,187.8 L390.8,187.5 L391.3,187.6 L391.8,188.0 L392.3,188.2 L392.8,187.6 L393.3,187.8 L393.8,187.8 L394.3,188.3 L394.8,188.0 L395.3,188.2 L395.8,188.6 L396.3,188.7 L396.8,189.0 L397.3,189.0 L397.8,189.1 L398.3,189.3 L398.8,189.3 L399.3,189.5 L399.8,189.8 L400.3,190.0 L400.8,190.5 L401.3,190.9 L401.8,191.4 L402.3,191.3 L402.8,190.9 L403.3,191.0 L403.8,191.9 L404.3,192.0 L404.8,192.5 L405.3,192.3 L405.8,192.5 L406.3,192.2 L406.8,192.4 L407.3,192.8 L407.8,192.7 L408.3,192.6 L408.8,193.0 L409.3,192.9 L409.8,193.3 L410.3,194.3 L410.8,194.1 L411.3,193.8 L411.8,194.1 L412.3,194.5" fill="none" stroke="#3a4ea6" stroke-width="2.00" stroke-linejoin="round" stroke-linecap="round"/>
<path d="M97.8,26.4 L98.3,26.1 L98.8,26.5 L99.3,26.3 L99.8,25.9 L100.3,26.2 L100.8,26.3 L101.3,26.4 L101.8,26.1 L102.3,26.2 L102.8,26.0 L103.3,25.7 L103.8,25.6 L104.3,25.9 L104.8,26.0 L105.3,26.4 L105.8,26.4 L106.3,26.0 L106.8,26.0 L107.3,25.7 L107.8,25.7 L108.3,25.5 L108.8,25.3 L109.3,25.3 L109.8,25.8 L110.3,25.4 L110.8,25.6 L111.3,25.7 L111.8,25.4 L112.3,25.5 L112.8,25.6 L113.3,26.3 L113.8,26.0 L114.3,25.8 L114.8,26.1 L115.3,25.9 L115.8,26.3 L116.3,25.8 L116.8,25.8 L117.3,25.7 L117.8,25.9 L118.3,26.5 L118.8,27.1 L119.3,27.4 L119.8,27.6 L120.3,27.7 L120.8,28.6 L121.3,29.4 L121.8,30.0 L122.3,30.8 L122.8,30.7 L123.3,30.5 L123.8,30.1 L124.3,30.3 L124.8,30.8 L125.3,31.6 L125.8,31.7 L126.3,31.6 L126.8,32.5 L127.3,33.4 L127.8,33.2 L128.3,33.9 L128.8,33.4 L129.3,34.0 L129.8,33.8 L130.3,34.1 L130.8,34.9 L131.3,35.3 L131.8,36.2 L132.3,36.2 L132.8,36.8 L133.3,37.3 L133.8,37.4 L134.3,37.7 L134.8,38.2 L135.3,38.4 L135.8,38.7 L136.3,38.8 L136.8,38.6 L137.3,38.7 L137.8,39.0 L138.3,39.9 L138.8,39.8 L139.3,40.1 L139.8,39.7 L140.3,40.6 L140.8,41.0 L141.3,41.7 L141.8,42.2 L142.3,42.7 L142.8,43.5 L143.3,44.0 L143.8,44.4 L144.3,44.8 L144.8,44.8 L145.3,44.5 L145.8,45.0 L146.3,45.4 L146.8,45.9 L147.3,46.0 L147.8,46.3 L148.3,46.4 L148.8,47.1 L149.3,47.4 L149.8,47.5 L150.3,48.0 L150.8,48.0 L151.3,48.1 L151.8,48.4 L152.3,48.8 L152.8,49.1 L153.3,49.7 L153.8,49.8 L154.3,50.2 L154.8,50.2 L155.3,50.2 L155.8,50.7 L156.3,51.8 L156.8,52.6 L157.3,53.1 L157.8,52.8 L158.3,53.1 L158.8,53.3 L159.3,53.7 L159.8,54.1 L160.3,54.5 L160.8,56.4 L161.3,58.6 L161.8,60.7 L162.3,61.1 L162.8,61.1 L163.3,60.7 L163.8,60.1 L164.3,60.1 L164.8,60.5 L165.3,60.9 L165.8,61.1 L166.3,61.5 L166.8,61.9 L167.3,62.1 L167.8,62.5 L168.3,62.3 L168.8,62.6 L169.3,62.5 L169.8,62.4 L170.3,63.3 L170.8,63.7 L171.3,64.4 L171.8,64.8 L172.3,65.3 L172.8,65.9 L173.3,66.2 L173.8,66.4 L174.3,66.6 L174.8,66.8 L175.3,67.4 L175.8,67.8 L176.3,68.0 L176.8,68.0 L177.3,68.8 L177.8,69.2 L178.3,69.1 L178.8,70.2 L179.3,70.7 L179.8,71.4 L180.3,72.4 L180.8,72.5 L181.3,73.4 L181.8,73.0 L182.3,73.4 L182.8,74.0 L183.3,73.9 L183.8,74.7 L184.3,75.0 L184.8,75.3 L185.3,75.3 L185.8,76.2 L186.3,76.5 L186.8,77.4 L187.3,77.3 L187.8,77.6 L188.3,78.3 L188.8,78.2 L189.3,79.1 L189.8,79.7 L190.3,80.8 L190.8,81.0 L191.3,81.4 L191.8,81.5 L192.3,81.3 L192.8,81.7 L193.3,82.4 L193.8,82.2 L194.3,82.6 L194.8,82.9 L195.3,83.7 L195.8,83.6 L196.3,84.4 L196.8,85.1 L197.3,85.0 L197.8,85.4 L198.3,86.1 L198.8,85.9 L199.3,86.5 L199.8,86.7 L200.3,87.4 L200.8,87.2 L201.3,87.6 L201.8,88.3 L202.3,88.5 L202.8,88.8 L203.3,89.1 L203.8,89.9 L204.3,90.1 L204.8,90.5 L205.3,90.3 L205.8,90.6 L206.3,90.9 L206.8,91.0 L207.3,91.4 L207.8,92.0 L208.3,92.3 L208.8,92.6 L209.3,93.0 L209.8,93.2 L210.3,93.0 L210.8,93.0 L211.3,93.6 L211.8,94.0 L212.3,94.1 L212.8,94.3 L213.3,94.4 L213.8,94.7 L214.3,95.0 L214.8,95.5 L215.3,95.8 L215.8,96.0 L216.3,96.1 L216.8,96.4 L217.3,96.5 L217.8,97.3 L218.3,97.0 L218.8,97.4 L219.3,97.6 L219.8,98.3 L220.3,98.7 L220.8,98.9 L221.3,99.2 L221.8,99.4 L222.3,99.1 L222.8,100.1 L223.3,99.9 L223.8,100.1 L224.3,100.6 L224.8,101.4 L225.3,101.8 L225.8,102.2 L226.3,102.3 L226.8,103.1 L227.3,103.2 L227.8,104.1 L228.3,104.2 L228.8,104.2 L229.3,104.3 L229.8,104.9 L230.3,105.4 L230.8,106.2 L231.3,106.7 L231.8,107.0 L232.3,107.4 L232.8,107.5 L233.3,107.8 L233.8,108.7 L234.3,109.3 L234.8,110.1 L235.3,110.2 L235.8,110.7 L236.3,111.0 L236.8,112.0 L237.3,112.5 L237.8,112.5 L238.3,112.9 L238.8,113.9 L239.3,114.5 L239.8,114.9 L240.3,114.8 L240.8,115.0 L241.3,115.4 L241.8,115.6 L242.3,116.1 L242.8,117.2 L243.3,117.6 L243.8,117.5 L244.3,117.8 L244.8,117.8 L245.3,118.0 L245.8,118.4 L246.3,118.5 L246.8,118.8 L247.3,119.4 L247.8,120.2 L248.3,120.4 L248.8,120.2 L249.3,120.3 L249.8,120.9 L250.3,121.3 L250.8,121.9 L251.3,122.1 L251.8,123.2 L252.3,123.0 L252.8,123.1 L253.3,124.2 L253.8,124.5 L254.3,125.2 L254.8,125.3 L255.3,126.1 L255.8,126.3 L256.3,126.8 L256.8,127.8 L257.3,128.4 L257.8,128.6 L258.3,128.7 L258.8,129.4 L259.3,130.4 L259.8,130.7 L260.3,130.7 L260.8,130.9 L261.3,131.6 L261.8,131.1 L262.3,131.2 L262.8,131.7 L263.3,132.1 L263.8,132.4 L264.3,133.2 L264.8,133.8 L265.3,133.6 L265.8,134.0 L266.3,134.0 L266.8,134.3 L267.3,134.8 L267.8,135.4 L268.3,135.7 L268.8,135.4 L269.3,135.3 L269.8,135.6 L270.3,135.6 L270.8,136.6 L271.3,137.0 L271.8,137.1 L272.3,137.5 L272.8,137.9 L273.3,138.9 L273.8,139.1 L274.3,139.3 L274.8,140.0 L275.3,139.7 L275.8,139.8 L276.3,140.4 L276.8,140.9 L277.3,140.8 L277.8,141.0 L278.3,141.7 L278.8,141.9 L279.3,142.1 L279.8,142.6 L280.3,144.3 L280.8,143.9 L281.3,144.1 L281.8,144.3 L282.3,144.5 L282.8,144.9 L283.3,145.7 L283.8,146.2 L284.3,146.4 L284.8,147.1 L285.3,147.4 L285.8,147.0 L286.3,147.1 L286.8,147.7 L287.3,148.2 L287.8,148.2 L288.3,148.4 L288.8,148.9 L289.3,149.5 L289.8,149.0 L290.3,149.7 L290.8,150.1 L291.3,150.3 L291.8,150.3 L292.3,150.3 L292.8,150.7 L293.3,151.2 L293.8,151.5 L294.3,151.7 L294.8,151.8 L295.3,152.1 L295.8,152.5 L296.3,152.4 L296.8,152.3 L297.3,152.5 L297.8,152.5 L298.3,152.7 L298.8,153.3 L299.3,153.7 L299.8,153.9 L300.3,154.1 L300.8,154.7 L301.3,155.2 L301.8,155.4 L302.3,155.4 L302.8,155.7 L303.3,156.1 L303.8,156.4 L304.3,156.5 L304.8,156.6 L305.3,157.1 L305.8,158.1 L306.3,158.4 L306.8,158.5 L307.3,158.7 L307.8,158.8 L308.3,159.0 L308.8,159.2 L309.3,159.8 L309.8,159.7 L310.3,160.6 L310.8,161.2 L311.3,161.0 L311.8,160.9 L312.3,161.3 L312.8,162.0 L313.3,162.2 L313.8,162.2 L314.3,163.1 L314.8,163.2 L315.3,163.8 L315.8,164.0 L316.3,164.0 L316.8,164.7 L317.3,165.3 L317.8,165.7 L318.3,166.3 L318.8,166.8 L319.3,166.6 L319.8,166.8 L320.3,167.2 L320.8,167.2 L321.3,168.3 L321.8,168.2 L322.3,168.1 L322.8,168.8 L323.3,169.3 L323.8,170.0 L324.3,170.4 L324.8,170.5 L325.3,171.1 L325.8,171.2 L326.3,172.0 L326.8,171.7 L327.3,171.6 L327.8,172.9 L328.3,173.1 L328.8,172.7 L329.3,172.8 L329.8,172.9 L330.3,172.5 L330.8,173.0 L331.3,173.9 L331.8,174.0 L332.3,174.2 L332.8,174.6 L333.3,175.1 L333.8,175.6 L334.3,176.6 L334.8,176.4 L335.3,176.3 L335.8,176.8 L336.3,177.0 L336.8,177.3 L337.3,177.1 L337.8,178.1 L338.3,178.6 L338.8,179.3 L339.3,179.3 L339.8,179.0 L340.3,179.6 L340.8,180.1 L341.3,180.2 L341.8,180.9 L342.3,180.5 L342.8,180.9 L343.3,180.9 L343.8,181.3 L344.3,181.8 L344.8,181.7 L345.3,182.1 L345.8,182.8 L346.3,183.2 L346.8,183.6 L347.3,183.9 L347.8,184.7 L348.3,185.3 L348.8,185.3 L349.3,186.0 L349.8,186.7 L350.3,186.5 L350.8,186.9 L351.3,186.5 L351.8,186.9 L352.3,186.8 L352.8,186.8 L353.3,187.2 L353.8,187.9 L354.3,187.9 L354.8,188.3 L355.3,188.4 L355.8,188.4 L356.3,188.6 L356.8,188.8 L357.3,188.9 L357.8,189.1 L358.3,189.1 L358.8,189.2 L359.3,189.5 L359.8,189.5 L360.3,190.2 L360.8,189.9 L361.3,190.5 L361.8,190.3 L362.3,190.8 L362.8,190.9 L363.3,190.8 L363.8,191.3 L364.3,191.6 L364.8,192.4 L365.3,192.5 L365.8,192.2 L366.3,192.4 L366.8,193.0 L367.3,192.7 L367.8,193.1 L368.3,193.7 L368.8,193.6 L369.3,194.0 L369.8,194.2 L370.3,194.7 L370.8,194.3 L371.3,194.5 L371.8,194.4 L372.3,194.4 L372.8,194.9 L373.3,195.3 L373.8,196.0 L374.3,196.8 L374.8,196.5 L375.3,196.0 L375.8,196.3 L376.3,196.4 L376.8,197.1 L377.3,197.2 L377.8,197.4 L378.3,197.6 L378.8,198.2 L379.3,198.0 L379.8,197.8 L380.3,198.1 L380.8,197.8 L381.3,198.3 L381.8,198.5 L382.3,198.3 L382.8,199.1 L383.3,198.9 L383.8,199.5 L384.3,199.5 L384.8,199.2 L385.3,199.2 L385.8,199.4 L386.3,199.7 L386.8,199.8 L387.3,200.0 L387.8,199.4 L388.3,199.9 L388.8,200.2 L389.3,200.1 L389.8,200.2 L390.3,200.4 L390.8,200.3 L391.3,200.6 L391.8,200.9 L392.3,201.3 L392.8,201.6 L393.3,201.5 L393.8,202.2 L394.3,202.0 L394.8,202.3 L395.3,202.8 L395.8,202.7 L396.3,202.5 L396.8,202.5 L397.3,202.8 L397.8,203.3 L398.3,203.4 L398.8,203.5 L399.3,203.8 L399.8,203.7 L400.3,203.5 L400.8,204.5 L401.3,204.8 L401.8,205.1 L402.3,205.1 L402.8,205.1 L403.3,205.3 L403.8,205.2 L404.3,205.7 L404.8,205.9 L405.3,206.1 L405.8,206.1 L406.3,206.0 L406.8,206.8 L407.3,206.8 L407.8,206.5 L408.3,207.1 L408.8,206.8 L409.3,207.3 L409.8,207.3 L410.3,207.9 L410.8,207.6 L411.3,207.3 L411.8,207.1 L412.3,207.7 L412.8,207.6 L413.3,208.6" fill="none" stroke="#c46cb7" stroke-width="2.00" stroke-linejoin="round" stroke-linecap="round"/>
<path d="M97.8,25.9 L98.3,26.0 L98.8,25.8 L99.3,25.6 L99.8,26.2 L100.3,25.9 L100.8,26.0 L101.3,26.2 L101.8,25.8 L102.3,25.9 L102.8,26.4 L103.3,26.1 L103.8,25.7 L104.3,25.8 L104.8,25.8 L105.3,26.2 L105.8,26.2 L106.3,25.9 L106.8,25.5 L107.3,25.6 L107.8,25.4 L108.3,25.3 L108.8,25.8 L109.3,25.8 L109.8,25.5 L110.3,25.9 L110.8,26.0 L111.3,25.5 L111.8,25.9 L112.3,25.3 L112.8,25.5 L113.3,25.4 L113.8,25.1 L114.3,24.8 L114.8,25.5 L115.3,25.3 L115.8,25.0 L116.3,24.8 L116.8,24.9 L117.3,25.3 L117.8,25.4 L118.3,25.7 L118.8,25.7 L119.3,25.5 L119.8,26.2 L120.3,26.9 L120.8,26.6 L121.3,26.7 L121.8,27.4 L122.3,28.0 L122.8,28.3 L123.3,29.1 L123.8,30.5 L124.3,31.5 L124.8,31.9 L125.3,32.4 L125.8,32.8 L126.3,33.3 L126.8,33.4 L127.3,34.0 L127.8,34.4 L128.3,34.9 L128.8,35.7 L129.3,36.2 L129.8,36.3 L130.3,36.3 L130.8,37.1 L131.3,37.4 L131.8,37.6 L132.3,38.3 L132.8,38.2 L133.3,38.8 L133.8,39.4 L134.3,39.7 L134.8,39.7 L135.3,40.0 L135.8,40.6 L136.3,40.7 L136.8,41.5 L137.3,42.0 L137.8,41.9 L138.3,42.1 L138.8,42.7 L139.3,43.5 L139.8,43.7 L140.3,44.1 L140.8,44.7 L141.3,44.9 L141.8,44.4 L142.3,45.3 L142.8,45.8 L143.3,46.1 L143.8,47.3 L144.3,47.5 L144.8,47.7 L145.3,48.3 L145.8,49.4 L146.3,49.3 L146.8,49.9 L147.3,50.3 L147.8,51.4 L148.3,51.6 L148.8,52.8 L149.3,52.9 L149.8,53.3 L150.3,53.3 L150.8,53.8 L151.3,54.8 L151.8,55.5 L152.3,55.7 L152.8,56.7 L153.3,57.5 L153.8,57.4 L154.3,57.8 L154.8,58.1 L155.3,58.6 L155.8,59.3 L156.3,59.5 L156.8,60.1 L157.3,61.0 L157.8,61.0 L158.3,61.5 L158.8,62.3 L159.3,62.8 L159.8,62.7 L160.3,63.4 L160.8,63.6 L161.3,63.7 L161.8,64.2 L162.3,64.5 L162.8,64.2 L163.3,64.5 L163.8,65.0 L164.3,64.8 L164.8,65.6 L165.3,66.2 L165.8,66.5 L166.3,66.6 L166.8,66.5 L167.3,67.4 L167.8,68.4 L168.3,68.8 L168.8,69.0 L169.3,69.5 L169.8,69.5 L170.3,69.5 L170.8,70.0 L171.3,70.2 L171.8,70.9 L172.3,71.8 L172.8,72.3 L173.3,72.5 L173.8,73.7 L174.3,74.3 L174.8,74.5 L175.3,74.7 L175.8,74.7 L176.3,75.1 L176.8,75.5 L177.3,75.6 L177.8,76.3 L178.3,76.7 L178.8,77.3 L179.3,78.1 L179.8,78.9 L180.3,78.1 L180.8,78.8 L181.3,79.7 L181.8,80.5 L182.3,81.0 L182.8,82.2 L183.3,82.3 L183.8,82.8 L184.3,83.1 L184.8,84.4 L185.3,84.9 L185.8,84.9 L186.3,84.6 L186.8,85.7 L187.3,85.7 L187.8,86.8 L188.3,87.1 L188.8,86.6 L189.3,87.0 L189.8,87.8 L190.3,88.7 L190.8,89.4 L191.3,90.1 L191.8,89.8 L192.3,90.0 L192.8,90.1 L193.3,90.6 L193.8,91.3 L194.3,92.0 L194.8,92.6 L195.3,93.1 L195.8,94.0 L196.3,94.3 L196.8,94.4 L197.3,93.9 L197.8,94.6 L198.3,95.0 L198.8,95.7 L199.3,96.5 L199.8,96.7 L200.3,97.2 L200.8,97.6 L201.3,97.5 L201.8,97.7 L202.3,98.5 L202.8,98.7 L203.3,99.0 L203.8,99.3 L204.3,99.6 L204.8,100.4 L205.3,100.8 L205.8,101.3 L206.3,101.6 L206.8,101.6 L207.3,101.7 L207.8,102.5 L208.3,102.6 L208.8,103.4 L209.3,103.2 L209.8,103.4 L210.3,104.0 L210.8,104.1 L211.3,104.1 L211.8,104.6 L212.3,105.1 L212.8,105.8 L213.3,105.2 L213.8,105.7 L214.3,106.1 L214.8,107.0 L215.3,107.3 L215.8,107.0 L216.3,107.9 L216.8,107.8 L217.3,108.4 L217.8,108.9 L218.3,109.2 L218.8,109.6 L219.3,109.5 L219.8,110.2 L220.3,110.4 L220.8,110.5 L221.3,110.9 L221.8,111.5 L222.3,111.6 L222.8,112.4 L223.3,112.9 L223.8,113.3 L224.3,113.7 L224.8,114.5 L225.3,114.7 L225.8,115.4 L226.3,116.0 L226.8,116.4 L227.3,117.0 L227.8,117.6 L228.3,117.5 L228.8,118.0 L229.3,119.2 L229.8,119.5 L230.3,119.7 L230.8,121.0 L231.3,121.6 L231.8,121.5 L232.3,121.8 L232.8,122.1 L233.3,121.5 L233.8,122.2 L234.3,122.1 L234.8,122.3 L235.3,123.6 L235.8,123.3 L236.3,123.8 L236.8,124.2 L237.3,124.2 L237.8,124.9 L238.3,125.1 L238.8,125.3 L239.3,125.4 L239.8,125.8 L240.3,126.4 L240.8,126.8 L241.3,127.3 L241.8,127.3 L242.3,127.6 L242.8,128.1 L243.3,127.7 L243.8,128.3 L244.3,128.2 L244.8,128.2 L245.3,128.7 L245.8,128.9 L246.3,128.7 L246.8,129.6 L247.3,129.4 L247.8,129.4 L248.3,129.8 L248.8,130.5 L249.3,130.2 L249.8,130.0 L250.3,130.6 L250.8,131.2 L251.3,131.6 L251.8,132.3 L252.3,133.3 L252.8,134.3 L253.3,134.3 L253.8,135.5 L254.3,135.5 L254.8,135.8 L255.3,136.5 L255.8,137.2 L256.3,137.8 L256.8,138.4 L257.3,138.9 L257.8,139.5 L258.3,140.0 L258.8,140.5 L259.3,141.3 L259.8,141.5 L260.3,142.1 L260.8,142.9 L261.3,143.1 L261.8,143.8 L262.3,143.5 L262.8,144.5 L263.3,144.9 L263.8,145.6 L264.3,145.9 L264.8,145.8 L265.3,146.7 L265.8,147.0 L266.3,147.5 L266.8,147.8 L267.3,148.5 L267.8,149.4 L268.3,149.5 L268.8,150.4 L269.3,150.6 L269.8,151.2 L270.3,151.6 L270.8,151.9 L271.3,152.6 L271.8,152.8 L272.3,153.6 L272.8,154.5 L273.3,154.7 L273.8,155.1 L274.3,155.5 L274.8,156.8 L275.3,156.9 L275.8,157.5 L276.3,158.3 L276.8,158.4 L277.3,158.6 L277.8,158.7 L278.3,159.1 L278.8,159.9 L279.3,159.2 L279.8,159.6 L280.3,159.9 L280.8,160.1 L281.3,160.2 L281.8,160.3 L282.3,160.9 L282.8,160.8 L283.3,160.7 L283.8,161.5 L284.3,161.8 L284.8,162.5 L285.3,163.2 L285.8,162.9 L286.3,163.4 L286.8,163.7 L287.3,163.6 L287.8,164.2 L288.3,165.0 L288.8,165.3 L289.3,165.3 L289.8,166.1 L290.3,166.0 L290.8,165.8 L291.3,166.9 L291.8,167.0 L292.3,167.3 L292.8,167.7 L293.3,168.7 L293.8,168.8 L294.3,169.2 L294.8,168.9 L295.3,169.7 L295.8,169.7 L296.3,169.5 L296.8,169.7 L297.3,169.6 L297.8,169.8 L298.3,170.8 L298.8,171.5 L299.3,171.8 L299.8,172.2 L300.3,172.2 L300.8,172.3 L301.3,172.7 L301.8,173.0 L302.3,173.6 L302.8,174.1 L303.3,173.6 L303.8,174.9 L304.3,175.1 L304.8,175.1 L305.3,175.4 L305.8,176.0 L306.3,176.3 L306.8,177.1 L307.3,177.4 L307.8,177.7 L308.3,177.6 L308.8,178.4 L309.3,178.8 L309.8,178.6 L310.3,178.9 L310.8,179.7 L311.3,180.0 L311.8,179.9 L312.3,180.5 L312.8,180.8 L313.3,180.8 L313.8,181.2 L314.3,181.7 L314.8,182.1 L315.3,181.8 L315.8,182.1 L316.3,183.0 L316.8,183.3 L317.3,183.0 L317.8,183.4 L318.3,184.1 L318.8,184.3 L319.3,184.7 L319.8,184.8 L320.3,185.0 L320.8,185.1 L321.3,185.1 L321.8,185.5 L322.3,186.1 L322.8,186.5 L323.3,186.4 L323.8,187.3 L324.3,186.9 L324.8,186.9 L325.3,187.0 L325.8,187.3 L326.3,187.5 L326.8,187.7 L327.3,188.5 L327.8,188.8 L328.3,189.0 L328.8,189.4 L329.3,189.0 L329.8,190.0 L330.3,190.2 L330.8,190.9 L331.3,191.0 L331.8,191.6 L332.3,191.8 L332.8,191.8 L333.3,191.8 L333.8,191.9 L334.3,192.6 L334.8,192.6 L335.3,192.8 L335.8,193.0 L336.3,193.3 L336.8,193.8 L337.3,194.0 L337.8,194.8 L338.3,195.1 L338.8,195.6 L339.3,195.8 L339.8,195.8 L340.3,196.2 L340.8,196.4 L341.3,196.7 L341.8,196.6 L342.3,196.3 L342.8,197.3 L343.3,198.1 L343.8,198.1 L344.3,198.3 L344.8,197.8 L345.3,198.0 L345.8,198.6 L346.3,198.6 L346.8,198.5 L347.3,198.6 L347.8,199.2 L348.3,199.6 L348.8,199.9 L349.3,200.4 L349.8,200.6 L350.3,200.5 L350.8,201.1 L351.3,201.2 L351.8,201.6 L352.3,201.5 L352.8,202.2 L353.3,202.4 L353.8,202.2 L354.3,202.3 L354.8,202.6 L355.3,202.9 L355.8,203.1 L356.3,203.7 L356.8,203.5 L357.3,203.6 L357.8,204.2 L358.3,204.0 L358.8,204.8 L359.3,204.9 L359.8,205.3 L360.3,205.6 L360.8,205.6 L361.3,206.1 L361.8,206.6 L362.3,207.1 L362.8,207.4 L363.3,207.6 L363.8,207.6 L364.3,208.1 L364.8,208.5 L365.3,209.0 L365.8,209.5 L366.3,210.0 L366.8,209.7 L367.3,210.2 L367.8,211.1 L368.3,211.0 L368.8,211.4 L369.3,211.7 L369.8,212.0 L370.3,212.3 L370.8,212.5 L371.3,212.5 L371.8,212.6 L372.3,213.0 L372.8,213.1 L373.3,213.3 L373.8,213.6 L374.3,214.5 L374.8,214.0 L375.3,214.7 L375.8,215.1 L376.3,215.3 L376.8,215.2 L377.3,215.8 L377.8,216.8 L378.3,217.1 L378.8,217.8 L379.3,217.9 L379.8,217.9 L380.3,218.3 L380.8,218.8 L381.3,219.4 L381.8,219.4 L382.3,219.5 L382.8,220.1 L383.3,220.1 L383.8,220.4 L384.3,220.0 L384.8,220.5 L385.3,221.2 L385.8,221.7 L386.3,222.3 L386.8,222.6 L387.3,222.5 L387.8,222.8 L388.3,223.3 L388.8,223.6 L389.3,224.3 L389.8,224.1 L390.3,224.0 L390.8,224.6 L391.3,224.6 L391.8,224.3 L392.3,224.5 L392.8,225.1 L393.3,226.2 L393.8,226.4 L394.3,226.3 L394.8,226.3 L395.3,227.1 L395.8,227.4 L396.3,227.1 L396.8,227.9 L397.3,227.9 L397.8,228.0 L398.3,227.9 L398.8,228.3 L399.3,228.6 L399.8,229.0 L400.3,229.0 L400.8,229.6 L401.3,228.8 L401.8,229.1 L402.3,229.5 L402.8,230.2 L403.3,230.3 L403.8,230.5 L404.3,230.8 L404.8,230.6 L405.3,230.8 L405.8,230.8 L406.3,230.7 L406.8,230.9 L407.3,231.2 L407.8,231.3 L408.3,231.6 L408.8,231.7 L409.3,231.9 L409.8,231.8 L410.3,232.3 L410.8,233.3 L411.3,233.5 L411.8,233.5 L412.3,233.8" fill="none" stroke="#1f9448" stroke-width="2.00" stroke-linejoin="round" stroke-linecap="round"/>
<text class="s" stroke="#262626" stroke-width="0.35" x="424.6" y="135.2" font-size="17.0" text-anchor="middle" fill="#262626">a</text>
<text class="s" stroke="#262626" stroke-width="0.35" x="425.0" y="174.0" font-size="17.0" text-anchor="middle" fill="#262626">b</text>
<text class="s" stroke="#262626" stroke-width="0.35" x="424.6" y="199.0" font-size="17.0" text-anchor="middle" fill="#262626">c</text>
<text class="s" stroke="#262626" stroke-width="0.35" x="424.4" y="218.0" font-size="17.0" text-anchor="middle" fill="#262626">d</text>
<text class="s" stroke="#262626" stroke-width="0.35" x="424.6" y="239.0" font-size="17.0" text-anchor="middle" fill="#262626">e</text>
<text class="r" x="214.2" y="376.2" font-size="28.8" fill="#111">(<tspan font-weight="bold">a</tspan>)</text>
</g>
<g id="pb">
<rect x="646.2" y="6.6" width="369.8" height="275.0" fill="none" stroke="#262626" stroke-width="2.10"/>
<path d="M651.8 281.6v6.1M651.8 6.6v6.1M706.9 281.6v6.1M706.9 6.6v6.1M762.0 281.6v6.1M762.0 6.6v6.1M817.2 281.6v6.1M817.2 6.6v6.1M872.3 281.6v6.1M872.3 6.6v6.1M927.4 281.6v6.1M927.4 6.6v6.1M982.5 281.6v6.1M982.5 6.6v6.1M679.4 281.6v3.8M679.4 6.6v3.8M734.5 281.6v3.8M734.5 6.6v3.8M789.6 281.6v3.8M789.6 6.6v3.8M844.7 281.6v3.8M844.7 6.6v3.8M899.9 281.6v3.8M899.9 6.6v3.8M955.0 281.6v3.8M955.0 6.6v3.8M1010.1 281.6v3.8M1010.1 6.6v3.8M646.2 281.6h-6.1M1016.0 281.6h-6.1M646.2 245.0h-6.1M1016.0 245.0h-6.1M646.2 208.4h-6.1M1016.0 208.4h-6.1M646.2 171.8h-6.1M1016.0 171.8h-6.1M646.2 135.1h-6.1M1016.0 135.1h-6.1M646.2 98.5h-6.1M1016.0 98.5h-6.1M646.2 61.8h-6.1M1016.0 61.8h-6.1M646.2 25.2h-6.1M1016.0 25.2h-6.1M646.2 263.4h-3.8M1016.0 263.4h-3.8M646.2 226.7h-3.8M1016.0 226.7h-3.8M646.2 190.1h-3.8M1016.0 190.1h-3.8M646.2 153.4h-3.8M1016.0 153.4h-3.8M646.2 116.8h-3.8M1016.0 116.8h-3.8M646.2 80.2h-3.8M1016.0 80.2h-3.8M646.2 43.5h-3.8M1016.0 43.5h-3.8M646.2 6.6h-3.8M1016.0 6.6h-3.8" stroke="#262626" stroke-width="1.90" fill="none"/>
<text class="s" stroke="#262626" stroke-width="0.35" x="636.4" y="286.7" font-size="16.2" text-anchor="end" fill="#262626" textLength="45.0" lengthAdjust="spacingAndGlyphs">33000</text>
<text class="s" stroke="#262626" stroke-width="0.35" x="636.4" y="250.1" font-size="16.2" text-anchor="end" fill="#262626" textLength="45.0" lengthAdjust="spacingAndGlyphs">34000</text>
<text class="s" stroke="#262626" stroke-width="0.35" x="636.4" y="213.5" font-size="16.2" text-anchor="end" fill="#262626" textLength="45.0" lengthAdjust="spacingAndGlyphs">35000</text>
<text class="s" stroke="#262626" stroke-width="0.35" x="636.4" y="176.9" font-size="16.2" text-anchor="end" fill="#262626" textLength="45.0" lengthAdjust="spacingAndGlyphs">36000</text>
<text class="s" stroke="#262626" stroke-width="0.35" x="636.4" y="140.2" font-size="16.2" text-anchor="end" fill="#262626" textLength="45.0" lengthAdjust="spacingAndGlyphs">37000</text>
<text class="s" stroke="#262626" stroke-width="0.35" x="636.4" y="103.6" font-size="16.2" text-anchor="end" fill="#262626" textLength="45.0" lengthAdjust="spacingAndGlyphs">38000</text>
<text class="s" stroke="#262626" stroke-width="0.35" x="636.4" y="66.9" font-size="16.2" text-anchor="end" fill="#262626" textLength="45.0" lengthAdjust="spacingAndGlyphs">39000</text>
<text class="s" stroke="#262626" stroke-width="0.35" x="636.4" y="30.3" font-size="16.2" text-anchor="end" fill="#262626" textLength="45.0" lengthAdjust="spacingAndGlyphs">40000</text>
<text class="s" stroke="#262626" stroke-width="0.35" x="651.8" y="303.8" font-size="15.3" text-anchor="middle" fill="#262626" textLength="8.4" lengthAdjust="spacingAndGlyphs">0</text>
<text class="s" stroke="#262626" stroke-width="0.35" x="706.9" y="303.8" font-size="15.3" text-anchor="middle" fill="#262626" textLength="16.8" lengthAdjust="spacingAndGlyphs">50</text>
<text class="s" stroke="#262626" stroke-width="0.35" x="762.0" y="303.8" font-size="15.3" text-anchor="middle" fill="#262626" textLength="25.2" lengthAdjust="spacingAndGlyphs">100</text>
<text class="s" stroke="#262626" stroke-width="0.35" x="817.2" y="303.8" font-size="15.3" text-anchor="middle" fill="#262626" textLength="25.2" lengthAdjust="spacingAndGlyphs">150</text>
<text class="s" stroke="#262626" stroke-width="0.35" x="872.3" y="303.8" font-size="15.3" text-anchor="middle" fill="#262626" textLength="25.2" lengthAdjust="spacingAndGlyphs">200</text>
<text class="s" stroke="#262626" stroke-width="0.35" x="927.4" y="303.8" font-size="15.3" text-anchor="middle" fill="#262626" textLength="25.2" lengthAdjust="spacingAndGlyphs">250</text>
<text class="s" stroke="#262626" stroke-width="0.35" x="982.5" y="303.8" font-size="15.3" text-anchor="middle" fill="#262626" textLength="25.2" lengthAdjust="spacingAndGlyphs">300</text>
<text class="s" stroke="#262626" stroke-width="0.35" x="576.3" y="270.1" font-size="21.0" text-anchor="start" fill="#262626" textLength="251.2" lengthAdjust="spacingAndGlyphs" transform="rotate(-90 576.3 270.1)">Intensity (Photon Count)</text>
<text class="s" stroke="#262626" stroke-width="0.35" x="786.9" y="333.2" font-size="20.8" text-anchor="start" fill="#262626" textLength="79.9" lengthAdjust="spacingAndGlyphs">Time (s)</text>
<text class="s" stroke="#262626" stroke-width="0.35" x="717.0" y="29.4" font-size="16.3" text-anchor="start" fill="#262626" textLength="163.5" lengthAdjust="spacingAndGlyphs">POD: 0.0005 mg/ml</text>
<path d="M651.7,23.6 L652.5,23.9 L653.3,25.3 L654.1,24.0 L654.9,22.2 L655.7,22.3 L656.5,24.8 L657.3,25.1 L658.1,24.4 L658.9,24.8 L659.7,23.5 L660.5,25.1 L661.3,25.6 L662.1,23.8 L662.9,23.6 L663.7,24.2 L664.5,23.7 L665.3,24.4 L666.1,22.8 L666.9,23.4 L667.7,24.1 L668.5,24.2 L669.3,24.8 L670.1,23.0 L670.9,24.9 L671.7,25.0 L672.5,23.3 L673.3,24.3 L674.1,25.2 L674.9,23.9 L675.7,24.4 L676.5,26.0 L677.3,24.8 L678.1,26.0 L678.9,27.0 L679.7,27.3 L680.5,28.9 L681.3,29.0 L682.1,28.7 L682.9,30.8 L683.7,29.8 L684.5,29.9 L685.3,29.4 L686.1,31.2 L686.9,30.8 L687.7,31.7 L688.5,31.9 L689.3,31.8 L690.1,33.6 L690.9,33.6 L691.7,32.2 L692.5,33.7 L693.3,33.3 L694.1,36.2 L694.9,34.7 L695.7,35.2 L696.5,36.1 L697.3,37.4 L698.1,35.6 L698.9,36.6 L699.7,38.5 L700.5,39.7 L701.3,39.2 L702.1,38.7 L702.9,38.6 L703.7,38.6 L704.5,41.4 L705.3,41.9 L706.1,40.9 L706.9,41.7 L707.7,40.9 L708.5,40.0 L709.3,43.2 L710.1,40.9 L710.9,41.4 L711.7,42.4 L712.5,43.0 L713.3,42.7 L714.1,42.9 L714.9,44.1 L715.7,44.5 L716.5,44.0 L717.3,45.0 L718.1,44.1 L718.9,44.1 L719.7,44.8 L720.5,46.0 L721.3,47.5 L722.1,47.8 L722.9,47.1 L723.7,48.1 L724.5,49.5 L725.3,50.6 L726.1,51.6 L726.9,51.2 L727.7,51.1 L728.5,53.0 L729.3,53.0 L730.1,53.4 L730.9,55.2 L731.7,54.2 L732.5,53.5 L733.3,55.8 L734.1,56.3 L734.9,54.6 L735.7,56.2 L736.5,56.8 L737.3,56.7 L738.1,57.2 L738.9,59.0 L739.7,59.2 L740.5,59.4 L741.3,59.4 L742.1,59.5 L742.9,60.1 L743.7,61.1 L744.5,62.4 L745.3,61.1 L746.1,61.9 L746.9,60.6 L747.7,62.5 L748.5,64.6 L749.3,63.3 L750.1,64.4 L750.9,64.9 L751.7,64.9 L752.5,63.6 L753.3,65.8 L754.1,64.8 L754.9,65.5 L755.7,65.3 L756.5,65.6 L757.3,66.7 L758.1,66.4 L758.9,67.5 L759.7,68.9 L760.5,67.6 L761.3,68.1 L762.1,69.0 L762.9,71.0 L763.7,70.4 L764.5,70.4 L765.3,70.9 L766.1,72.6 L766.9,72.7 L767.7,72.4 L768.5,72.8 L769.3,75.4 L770.1,74.4 L770.9,74.5 L771.7,72.3 L772.5,73.5 L773.3,73.1 L774.1,74.7 L774.9,75.7 L775.7,75.5 L776.5,76.3 L777.3,76.5 L778.1,78.2 L778.9,78.6 L779.7,77.1 L780.5,79.1 L781.3,78.0 L782.1,79.6 L782.9,78.4 L783.7,79.4 L784.5,82.0 L785.3,79.6 L786.1,79.0 L786.9,83.1 L787.7,85.0 L788.5,85.2 L789.3,85.3 L790.1,86.0 L790.9,86.2 L791.7,88.1 L792.5,88.5 L793.3,88.1 L794.1,87.7 L794.9,87.5 L795.7,88.0 L796.5,88.5 L797.3,89.3 L798.1,89.7 L798.9,88.9 L799.7,89.8 L800.5,90.6 L801.3,89.3 L802.1,90.7 L802.9,91.2 L803.7,89.0 L804.5,91.7 L805.3,91.3 L806.1,92.4 L806.9,93.4 L807.7,93.3 L808.5,95.0 L809.3,94.8 L810.1,92.2 L810.9,94.4 L811.7,97.0 L812.5,97.1 L813.3,98.0 L814.1,98.8 L814.9,97.5 L815.7,99.5 L816.5,97.6 L817.3,98.8 L818.1,100.8 L818.9,99.6 L819.7,100.5 L820.5,100.4 L821.3,101.4 L822.1,100.6 L822.9,102.5 L823.7,103.9 L824.5,102.7 L825.3,103.6 L826.1,103.8 L826.9,103.9 L827.7,106.0 L828.5,103.8 L829.3,105.2 L830.1,105.7 L830.9,105.1 L831.7,106.1 L832.5,105.6 L833.3,107.0 L834.1,107.1 L834.9,108.5 L835.7,107.6 L836.5,108.8 L837.3,109.1 L838.1,108.0 L838.9,110.9 L839.7,109.9 L840.5,110.7 L841.3,110.2 L842.1,110.6 L842.9,110.3 L843.7,112.0 L844.5,112.7 L845.3,113.7 L846.1,113.6 L846.9,113.3 L847.7,113.6 L848.5,113.7 L849.3,113.9 L850.1,115.0 L850.9,115.5 L851.7,115.3 L852.5,115.4 L853.3,115.3 L854.1,116.5 L854.9,116.6 L855.7,116.0 L856.5,118.1 L857.3,117.1 L858.1,117.3 L858.9,118.8 L859.7,119.0 L860.5,119.8 L861.3,119.9 L862.1,121.2 L862.9,119.7 L863.7,122.2 L864.5,121.9 L865.3,120.9 L866.1,121.4 L866.9,120.4 L867.7,121.2 L868.5,123.1 L869.3,123.5 L870.1,123.2 L870.9,122.2 L871.7,123.0 L872.5,123.5 L873.3,122.6 L874.1,126.1 L874.9,125.3 L875.7,125.2 L876.5,125.8 L877.3,126.2 L878.1,127.9 L878.9,128.7 L879.7,129.3 L880.5,128.4 L881.3,129.1 L882.1,130.2 L882.9,131.6 L883.7,130.3 L884.5,131.8 L885.3,132.4 L886.1,132.6 L886.9,130.0 L887.7,132.7 L888.5,133.2 L889.3,133.4 L890.1,133.2 L890.9,132.4 L891.7,131.6 L892.5,131.6 L893.3,133.2 L894.1,134.3 L894.9,135.7 L895.7,137.1 L896.5,137.9 L897.3,137.5 L898.1,137.2 L898.9,137.8 L899.7,138.7 L900.5,137.6 L901.3,138.8 L902.1,140.5 L902.9,139.6 L903.7,137.6 L904.5,140.3 L905.3,139.9 L906.1,140.7 L906.9,140.9 L907.7,140.7 L908.5,141.1 L909.3,140.0 L910.1,143.0 L910.9,142.0 L911.7,142.6 L912.5,140.6 L913.3,142.2 L914.1,144.4 L914.9,144.9 L915.7,146.0 L916.5,146.1 L917.3,145.7 L918.1,145.4 L918.9,144.6 L919.7,145.3 L920.5,146.7 L921.3,146.4 L922.1,147.0 L922.9,146.1 L923.7,147.9 L924.5,145.6 L925.3,146.2 L926.1,147.9 L926.9,148.7 L927.7,149.7 L928.5,149.7 L929.3,148.9 L930.1,148.9 L930.9,148.6 L931.7,148.2 L932.5,148.9 L933.3,150.7 L934.1,152.4 L934.9,152.1 L935.7,151.3 L936.5,154.2 L937.3,152.1 L938.1,153.8 L938.9,153.8 L939.7,155.6 L940.5,154.2 L941.3,154.9 L942.1,155.3 L942.9,156.8 L943.7,156.3 L944.5,156.1 L945.3,156.3 L946.1,156.4 L946.9,156.5 L947.7,157.7 L948.5,157.4 L949.3,156.9 L950.1,157.3 L950.9,158.0 L951.7,157.3 L952.5,160.2 L953.3,160.0 L954.1,159.6 L954.9,161.0 L955.7,160.6 L956.5,160.9 L957.3,161.8 L958.1,162.0 L958.9,162.5 L959.7,162.8 L960.5,162.6 L961.3,162.3 L962.1,162.1 L962.9,163.3 L963.7,165.1 L964.5,164.9 L965.3,163.7 L966.1,166.5 L966.9,164.9 L967.7,166.6 L968.5,164.6 L969.3,164.6 L970.1,165.8 L970.9,166.2 L971.7,167.4 L972.5,165.9 L973.3,169.1 L974.1,168.1 L974.9,167.9 L975.7,166.8 L976.5,170.0 L977.3,171.2 L978.1,171.2 L978.9,171.7" fill="none" stroke="#1d1d1d" stroke-width="2.00" stroke-linejoin="round" stroke-linecap="round"/>
<path d="M651.7,24.6 L652.5,24.5 L653.3,22.2 L654.1,24.3 L654.9,22.9 L655.7,22.5 L656.5,23.8 L657.3,23.2 L658.1,23.9 L658.9,22.7 L659.7,22.1 L660.5,20.8 L661.3,23.0 L662.1,22.0 L662.9,22.9 L663.7,22.9 L664.5,21.5 L665.3,23.4 L666.1,23.2 L666.9,22.2 L667.7,22.9 L668.5,23.9 L669.3,22.9 L670.1,23.2 L670.9,24.3 L671.7,22.9 L672.5,22.6 L673.3,23.4 L674.1,23.7 L674.9,25.4 L675.7,26.0 L676.5,26.7 L677.3,25.6 L678.1,27.7 L678.9,27.7 L679.7,27.9 L680.5,29.6 L681.3,30.7 L682.1,30.7 L682.9,30.4 L683.7,29.6 L684.5,30.4 L685.3,31.7 L686.1,33.6 L686.9,33.1 L687.7,33.2 L688.5,33.5 L689.3,33.3 L690.1,33.1 L690.9,34.7 L691.7,34.4 L692.5,34.2 L693.3,36.1 L694.1,37.2 L694.9,37.5 L695.7,38.3 L696.5,38.7 L697.3,36.9 L698.1,37.6 L698.9,40.0 L699.7,40.5 L700.5,38.8 L701.3,40.5 L702.1,40.0 L702.9,41.6 L703.7,41.4 L704.5,41.9 L705.3,42.6 L706.1,42.8 L706.9,44.4 L707.7,44.7 L708.5,45.1 L709.3,44.6 L710.1,46.2 L710.9,47.8 L711.7,46.7 L712.5,47.9 L713.3,48.9 L714.1,48.8 L714.9,48.7 L715.7,49.6 L716.5,49.8 L717.3,49.8 L718.1,49.7 L718.9,51.8 L719.7,51.7 L720.5,52.0 L721.3,53.1 L722.1,53.1 L722.9,54.3 L723.7,53.5 L724.5,53.9 L725.3,55.4 L726.1,57.1 L726.9,58.3 L727.7,57.8 L728.5,57.0 L729.3,58.6 L730.1,57.7 L730.9,55.7 L731.7,57.7 L732.5,58.5 L733.3,59.3 L734.1,57.3 L734.9,59.7 L735.7,59.3 L736.5,60.8 L737.3,61.5 L738.1,62.0 L738.9,64.1 L739.7,64.4 L740.5,65.2 L741.3,65.0 L742.1,64.2 L742.9,65.3 L743.7,64.7 L744.5,66.6 L745.3,67.5 L746.1,67.7 L746.9,67.8 L747.7,69.6 L748.5,69.5 L749.3,70.6 L750.1,71.3 L750.9,71.1 L751.7,72.1 L752.5,72.7 L753.3,71.9 L754.1,72.5 L754.9,74.3 L755.7,74.9 L756.5,75.3 L757.3,76.0 L758.1,75.9 L758.9,75.5 L759.7,76.7 L760.5,77.8 L761.3,78.0 L762.1,78.7 L762.9,80.0 L763.7,81.2 L764.5,82.0 L765.3,81.3 L766.1,82.1 L766.9,82.1 L767.7,84.1 L768.5,86.1 L769.3,85.7 L770.1,86.5 L770.9,86.4 L771.7,86.6 L772.5,86.9 L773.3,87.7 L774.1,88.3 L774.9,89.5 L775.7,90.4 L776.5,90.1 L777.3,88.0 L778.1,88.1 L778.9,89.9 L779.7,90.2 L780.5,92.0 L781.3,92.5 L782.1,92.7 L782.9,93.7 L783.7,93.2 L784.5,91.8 L785.3,94.4 L786.1,92.8 L786.9,95.6 L787.7,96.0 L788.5,96.6 L789.3,98.0 L790.1,98.8 L790.9,99.2 L791.7,99.3 L792.5,101.2 L793.3,101.3 L794.1,102.3 L794.9,103.4 L795.7,103.3 L796.5,103.0 L797.3,102.8 L798.1,103.4 L798.9,104.9 L799.7,104.6 L800.5,106.5 L801.3,108.0 L802.1,107.8 L802.9,108.7 L803.7,109.5 L804.5,108.9 L805.3,109.7 L806.1,110.5 L806.9,110.2 L807.7,112.8 L808.5,112.5 L809.3,112.7 L810.1,112.7 L810.9,113.8 L811.7,115.6 L812.5,114.7 L813.3,116.2 L814.1,116.9 L814.9,117.5 L815.7,119.4 L816.5,118.5 L817.3,118.7 L818.1,118.5 L818.9,118.6 L819.7,119.7 L820.5,120.7 L821.3,120.7 L822.1,120.3 L822.9,122.1 L823.7,122.2 L824.5,121.7 L825.3,124.2 L826.1,123.8 L826.9,123.5 L827.7,124.3 L828.5,126.2 L829.3,125.7 L830.1,125.8 L830.9,124.1 L831.7,126.3 L832.5,125.9 L833.3,127.0 L834.1,127.3 L834.9,128.2 L835.7,128.8 L836.5,128.7 L837.3,128.4 L838.1,130.1 L838.9,130.4 L839.7,131.1 L840.5,133.2 L841.3,132.9 L842.1,133.7 L842.9,132.8 L843.7,135.1 L844.5,134.1 L845.3,134.1 L846.1,134.1 L846.9,135.0 L847.7,135.9 L848.5,136.3 L849.3,136.7 L850.1,138.5 L850.9,137.6 L851.7,139.0 L852.5,138.4 L853.3,140.0 L854.1,139.5 L854.9,139.8 L855.7,142.8 L856.5,143.9 L857.3,143.3 L858.1,141.5 L858.9,142.5 L859.7,144.1 L860.5,144.5 L861.3,144.6 L862.1,146.5 L862.9,146.6 L863.7,147.1 L864.5,148.2 L865.3,148.5 L866.1,151.2 L866.9,150.9 L867.7,149.0 L868.5,150.4 L869.3,150.2 L870.1,154.1 L870.9,153.9 L871.7,153.6 L872.5,153.8 L873.3,154.7 L874.1,154.6 L874.9,155.2 L875.7,155.8 L876.5,155.6 L877.3,157.4 L878.1,156.9 L878.9,157.6 L879.7,158.9 L880.5,159.6 L881.3,158.8 L882.1,159.6 L882.9,159.3 L883.7,160.6 L884.5,160.9 L885.3,161.8 L886.1,162.0 L886.9,163.4 L887.7,163.8 L888.5,164.1 L889.3,164.5 L890.1,167.0 L890.9,166.8 L891.7,167.0 L892.5,167.2 L893.3,167.4 L894.1,169.3 L894.9,170.7 L895.7,171.2 L896.5,171.1 L897.3,173.0 L898.1,173.3 L898.9,173.4 L899.7,176.3 L900.5,175.9 L901.3,175.8 L902.1,176.5 L902.9,175.6 L903.7,175.2 L904.5,177.6 L905.3,175.8 L906.1,176.1 L906.9,177.0 L907.7,176.2 L908.5,178.3 L909.3,178.2 L910.1,177.3 L910.9,179.5 L911.7,178.8 L912.5,180.4 L913.3,180.6 L914.1,182.0 L914.9,184.4 L915.7,183.1 L916.5,183.2 L917.3,184.0 L918.1,184.1 L918.9,184.9 L919.7,184.6 L920.5,184.1 L921.3,184.9 L922.1,185.6 L922.9,186.0 L923.7,186.2 L924.5,186.5 L925.3,187.5 L926.1,188.2 L926.9,188.5 L927.7,188.1 L928.5,188.2 L929.3,186.9 L930.1,189.2 L930.9,188.4 L931.7,188.5 L932.5,189.7 L933.3,189.7 L934.1,191.5 L934.9,192.5 L935.7,190.9 L936.5,192.9 L937.3,193.0 L938.1,194.4 L938.9,193.4 L939.7,193.3 L940.5,193.5 L941.3,193.4 L942.1,193.4 L942.9,193.1 L943.7,194.0 L944.5,195.1 L945.3,195.5 L946.1,196.3 L946.9,194.1 L947.7,197.9 L948.5,196.4 L949.3,197.0 L950.1,197.0 L950.9,195.2 L951.7,198.7 L952.5,200.0 L953.3,197.6 L954.1,198.5 L954.9,199.7 L955.7,200.3 L956.5,201.0 L957.3,201.8 L958.1,202.0 L958.9,201.9 L959.7,202.2 L960.5,199.1 L961.3,201.1 L962.1,201.8 L962.9,200.9 L963.7,201.3 L964.5,201.7 L965.3,203.6 L966.1,203.1 L966.9,205.5 L967.7,207.3 L968.5,206.0 L969.3,206.0 L970.1,207.2 L970.9,208.6 L971.7,208.2 L972.5,208.3 L973.3,208.5 L974.1,208.0 L974.9,208.3 L975.7,207.8 L976.5,207.6 L977.3,209.2" fill="none" stroke="#e2363a" stroke-width="2.00" stroke-linejoin="round" stroke-linecap="round"/>
<path d="M651.7,23.3 L652.5,24.1 L653.3,23.7 L654.1,26.3 L654.9,24.9 L655.7,23.1 L656.5,22.4 L657.3,24.4 L658.1,24.4 L658.9,23.3 L659.7,24.9 L660.5,25.3 L661.3,25.9 L662.1,24.7 L662.9,23.7 L663.7,25.2 L664.5,25.2 L665.3,25.4 L666.1,25.0 L666.9,23.7 L667.7,22.4 L668.5,25.5 L669.3,23.9 L670.1,26.3 L670.9,29.6 L671.7,31.6 L672.5,31.6 L673.3,32.1 L674.1,33.6 L674.9,32.5 L675.7,31.0 L676.5,32.1 L677.3,31.0 L678.1,34.3 L678.9,33.6 L679.7,33.0 L680.5,31.5 L681.3,34.2 L682.1,34.4 L682.9,34.6 L683.7,35.4 L684.5,34.5 L685.3,34.8 L686.1,36.4 L686.9,36.4 L687.7,37.4 L688.5,35.9 L689.3,35.7 L690.1,35.8 L690.9,37.1 L691.7,37.0 L692.5,36.3 L693.3,39.2 L694.1,39.5 L694.9,40.4 L695.7,37.4 L696.5,39.8 L697.3,38.2 L698.1,39.1 L698.9,39.4 L699.7,41.2 L700.5,41.4 L701.3,42.2 L702.1,41.9 L702.9,42.7 L703.7,43.7 L704.5,46.1 L705.3,45.0 L706.1,45.8 L706.9,45.5 L707.7,46.7 L708.5,47.6 L709.3,47.2 L710.1,48.7 L710.9,48.9 L711.7,48.5 L712.5,49.9 L713.3,50.5 L714.1,49.5 L714.9,52.3 L715.7,51.0 L716.5,52.3 L717.3,53.9 L718.1,53.0 L718.9,54.3 L719.7,55.3 L720.5,56.7 L721.3,56.6 L722.1,56.6 L722.9,57.5 L723.7,57.4 L724.5,58.6 L725.3,60.2 L726.1,61.6 L726.9,60.7 L727.7,60.3 L728.5,62.8 L729.3,60.7 L730.1,62.6 L730.9,63.1 L731.7,62.5 L732.5,63.8 L733.3,65.6 L734.1,64.9 L734.9,65.0 L735.7,66.3 L736.5,67.1 L737.3,69.1 L738.1,69.8 L738.9,69.2 L739.7,69.5 L740.5,69.6 L741.3,70.4 L742.1,71.4 L742.9,72.1 L743.7,70.5 L744.5,73.0 L745.3,72.5 L746.1,72.3 L746.9,73.5 L747.7,73.0 L748.5,74.0 L749.3,74.7 L750.1,77.6 L750.9,77.9 L751.7,79.7 L752.5,78.0 L753.3,78.1 L754.1,79.5 L754.9,80.0 L755.7,80.0 L756.5,79.8 L757.3,81.1 L758.1,81.2 L758.9,81.7 L759.7,81.5 L760.5,81.8 L761.3,83.3 L762.1,84.1 L762.9,84.4 L763.7,84.1 L764.5,86.1 L765.3,85.8 L766.1,85.1 L766.9,87.6 L767.7,87.1 L768.5,87.1 L769.3,87.3 L770.1,87.7 L770.9,92.0 L771.7,92.4 L772.5,93.0 L773.3,91.5 L774.1,92.2 L774.9,91.9 L775.7,93.9 L776.5,94.1 L777.3,94.7 L778.1,94.8 L778.9,97.7 L779.7,96.7 L780.5,95.9 L781.3,96.7 L782.1,96.9 L782.9,98.7 L783.7,99.6 L784.5,98.2 L785.3,101.5 L786.1,102.2 L786.9,102.6 L787.7,104.2 L788.5,104.8 L789.3,104.3 L790.1,102.4 L790.9,104.3 L791.7,105.2 L792.5,108.3 L793.3,106.9 L794.1,107.2 L794.9,106.8 L795.7,108.2 L796.5,108.5 L797.3,109.8 L798.1,111.5 L798.9,111.1 L799.7,111.7 L800.5,112.2 L801.3,112.8 L802.1,115.4 L802.9,115.8 L803.7,114.7 L804.5,114.8 L805.3,115.5 L806.1,114.5 L806.9,116.0 L807.7,117.3 L808.5,118.7 L809.3,119.1 L810.1,118.4 L810.9,120.0 L811.7,120.9 L812.5,122.1 L813.3,124.1 L814.1,122.9 L814.9,123.8 L815.7,125.2 L816.5,125.8 L817.3,124.7 L818.1,125.6 L818.9,125.5 L819.7,126.1 L820.5,127.3 L821.3,126.2 L822.1,127.7 L822.9,128.2 L823.7,129.8 L824.5,129.2 L825.3,128.4 L826.1,130.7 L826.9,130.3 L827.7,132.3 L828.5,132.7 L829.3,133.9 L830.1,134.6 L830.9,135.5 L831.7,135.8 L832.5,135.8 L833.3,135.8 L834.1,134.8 L834.9,135.0 L835.7,136.1 L836.5,137.0 L837.3,136.6 L838.1,138.8 L838.9,137.0 L839.7,139.8 L840.5,139.4 L841.3,139.7 L842.1,141.4 L842.9,141.9 L843.7,142.1 L844.5,144.8 L845.3,145.0 L846.1,144.1 L846.9,144.7 L847.7,145.9 L848.5,144.8 L849.3,145.7 L850.1,146.4 L850.9,148.8 L851.7,147.8 L852.5,148.7 L853.3,150.0 L854.1,150.8 L854.9,150.2 L855.7,148.4 L856.5,150.0 L857.3,151.9 L858.1,152.7 L858.9,152.3 L859.7,152.0 L860.5,154.2 L861.3,154.8 L862.1,155.4 L862.9,157.2 L863.7,157.4 L864.5,155.2 L865.3,155.2 L866.1,156.4 L866.9,158.7 L867.7,157.3 L868.5,157.8 L869.3,158.4 L870.1,158.7 L870.9,158.9 L871.7,159.3 L872.5,161.4 L873.3,162.0 L874.1,162.0 L874.9,163.4 L875.7,163.7 L876.5,163.9 L877.3,163.2 L878.1,164.8 L878.9,166.5 L879.7,166.3 L880.5,167.8 L881.3,168.3 L882.1,167.9 L882.9,168.5 L883.7,170.0 L884.5,170.4 L885.3,167.1 L886.1,170.1 L886.9,171.8 L887.7,172.6 L888.5,173.3 L889.3,175.1 L890.1,174.6 L890.9,174.4 L891.7,175.8 L892.5,178.3 L893.3,178.6 L894.1,178.1 L894.9,178.0 L895.7,177.5 L896.5,179.8 L897.3,178.7 L898.1,179.3 L898.9,179.7 L899.7,180.2 L900.5,181.9 L901.3,181.5 L902.1,180.1 L902.9,183.1 L903.7,183.3 L904.5,184.4 L905.3,183.2 L906.1,186.0 L906.9,183.9 L907.7,188.3 L908.5,186.9 L909.3,186.2 L910.1,187.7 L910.9,188.4 L911.7,188.6 L912.5,188.8 L913.3,189.1 L914.1,190.2 L914.9,190.3 L915.7,191.1 L916.5,190.0 L917.3,190.2 L918.1,191.4 L918.9,191.5 L919.7,192.7 L920.5,193.1 L921.3,195.1 L922.1,194.6 L922.9,194.9 L923.7,194.4 L924.5,195.4 L925.3,196.3 L926.1,196.8 L926.9,197.6 L927.7,198.1 L928.5,197.7 L929.3,197.1 L930.1,200.2 L930.9,199.8 L931.7,200.6 L932.5,200.4 L933.3,201.7 L934.1,202.0 L934.9,203.5 L935.7,202.3 L936.5,203.8 L937.3,203.7 L938.1,204.9 L938.9,204.4 L939.7,204.0 L940.5,204.2 L941.3,205.4 L942.1,206.5 L942.9,207.1 L943.7,206.3 L944.5,208.5 L945.3,207.1 L946.1,206.5 L946.9,207.9 L947.7,208.7 L948.5,209.8 L949.3,210.4 L950.1,210.2 L950.9,211.7 L951.7,210.6 L952.5,209.8 L953.3,213.8 L954.1,213.6 L954.9,213.9 L955.7,215.2 L956.5,216.8 L957.3,217.3 L958.1,216.3 L958.9,216.2 L959.7,217.7 L960.5,218.1 L961.3,218.7 L962.1,218.1 L962.9,220.1 L963.7,221.5 L964.5,219.4 L965.3,221.2 L966.1,220.8 L966.9,222.5 L967.7,221.8 L968.5,222.3 L969.3,224.6 L970.1,224.1 L970.9,224.5 L971.7,226.3 L972.5,226.1 L973.3,226.7 L974.1,226.4 L974.9,224.0 L975.7,224.6 L976.5,226.2 L977.3,227.9 L978.1,227.6 L978.9,229.7" fill="none" stroke="#3a4ea6" stroke-width="2.00" stroke-linejoin="round" stroke-linecap="round"/>
<path d="M651.7,22.9 L652.5,22.8 L653.3,22.2 L654.1,22.6 L654.9,22.7 L655.7,22.3 L656.5,21.5 L657.3,21.9 L658.1,22.5 L658.9,21.9 L659.7,21.7 L660.5,22.7 L661.3,22.3 L662.1,22.2 L662.9,21.7 L663.7,22.1 L664.5,21.7 L665.3,21.7 L666.1,21.4 L666.9,22.6 L667.7,22.4 L668.5,21.7 L669.3,22.7 L670.1,23.3 L670.9,24.1 L671.7,22.6 L672.5,21.6 L673.3,22.3 L674.1,24.2 L674.9,23.2 L675.7,23.9 L676.5,26.9 L677.3,27.3 L678.1,28.9 L678.9,27.1 L679.7,28.2 L680.5,28.8 L681.3,30.5 L682.1,30.6 L682.9,29.8 L683.7,30.4 L684.5,30.3 L685.3,30.8 L686.1,30.6 L686.9,31.2 L687.7,33.2 L688.5,33.8 L689.3,34.7 L690.1,35.1 L690.9,35.0 L691.7,36.7 L692.5,34.9 L693.3,36.2 L694.1,36.8 L694.9,37.3 L695.7,39.0 L696.5,40.0 L697.3,40.2 L698.1,39.4 L698.9,39.8 L699.7,40.8 L700.5,41.7 L701.3,41.8 L702.1,42.2 L702.9,42.3 L703.7,43.6 L704.5,42.4 L705.3,43.5 L706.1,45.6 L706.9,44.7 L707.7,47.8 L708.5,46.7 L709.3,46.4 L710.1,46.7 L710.9,47.1 L711.7,48.2 L712.5,49.9 L713.3,49.7 L714.1,50.1 L714.9,50.4 L715.7,51.5 L716.5,52.3 L717.3,52.4 L718.1,53.7 L718.9,53.6 L719.7,55.1 L720.5,54.7 L721.3,55.6 L722.1,56.9 L722.9,57.3 L723.7,58.3 L724.5,58.8 L725.3,60.0 L726.1,59.7 L726.9,61.3 L727.7,61.6 L728.5,59.3 L729.3,62.7 L730.1,62.6 L730.9,64.2 L731.7,64.1 L732.5,63.6 L733.3,64.0 L734.1,66.4 L734.9,68.4 L735.7,67.2 L736.5,66.4 L737.3,68.6 L738.1,68.4 L738.9,68.2 L739.7,69.3 L740.5,70.2 L741.3,70.6 L742.1,70.6 L742.9,69.9 L743.7,71.0 L744.5,72.6 L745.3,73.6 L746.1,74.4 L746.9,72.8 L747.7,73.1 L748.5,74.2 L749.3,75.6 L750.1,75.1 L750.9,74.4 L751.7,74.4 L752.5,75.7 L753.3,76.9 L754.1,78.3 L754.9,79.1 L755.7,77.6 L756.5,80.1 L757.3,79.6 L758.1,77.5 L758.9,79.5 L759.7,80.2 L760.5,81.6 L761.3,82.2 L762.1,81.3 L762.9,83.0 L763.7,83.7 L764.5,84.8 L765.3,84.5 L766.1,86.0 L766.9,85.6 L767.7,88.6 L768.5,88.2 L769.3,89.5 L770.1,89.1 L770.9,90.0 L771.7,90.4 L772.5,92.2 L773.3,92.7 L774.1,92.8 L774.9,93.6 L775.7,94.7 L776.5,96.8 L777.3,95.8 L778.1,96.4 L778.9,97.7 L779.7,98.0 L780.5,98.2 L781.3,97.7 L782.1,99.5 L782.9,100.9 L783.7,99.6 L784.5,98.7 L785.3,100.0 L786.1,99.7 L786.9,101.9 L787.7,103.5 L788.5,103.9 L789.3,106.1 L790.1,105.9 L790.9,106.4 L791.7,108.0 L792.5,109.1 L793.3,110.8 L794.1,111.7 L794.9,112.4 L795.7,113.6 L796.5,112.1 L797.3,112.4 L798.1,113.1 L798.9,114.3 L799.7,114.9 L800.5,117.7 L801.3,118.0 L802.1,118.6 L802.9,122.5 L803.7,121.1 L804.5,119.9 L805.3,118.4 L806.1,117.8 L806.9,118.8 L807.7,117.6 L808.5,120.2 L809.3,122.5 L810.1,122.0 L810.9,121.6 L811.7,119.6 L812.5,121.0 L813.3,122.3 L814.1,123.7 L814.9,122.2 L815.7,125.1 L816.5,125.4 L817.3,125.9 L818.1,126.4 L818.9,125.9 L819.7,127.2 L820.5,127.6 L821.3,128.0 L822.1,129.2 L822.9,127.6 L823.7,128.6 L824.5,129.8 L825.3,132.3 L826.1,132.2 L826.9,133.6 L827.7,132.8 L828.5,133.3 L829.3,133.7 L830.1,133.7 L830.9,135.6 L831.7,135.6 L832.5,136.9 L833.3,137.0 L834.1,138.9 L834.9,138.7 L835.7,138.8 L836.5,138.3 L837.3,142.8 L838.1,142.3 L838.9,142.9 L839.7,143.8 L840.5,143.6 L841.3,143.1 L842.1,144.4 L842.9,143.8 L843.7,146.4 L844.5,145.4 L845.3,150.7 L846.1,151.3 L846.9,145.6 L847.7,145.2 L848.5,146.8 L849.3,149.0 L850.1,149.1 L850.9,149.5 L851.7,150.3 L852.5,151.5 L853.3,151.0 L854.1,152.6 L854.9,152.2 L855.7,152.7 L856.5,154.1 L857.3,155.1 L858.1,154.0 L858.9,155.5 L859.7,158.1 L860.5,157.1 L861.3,157.4 L862.1,160.2 L862.9,159.1 L863.7,160.1 L864.5,161.5 L865.3,162.1 L866.1,161.4 L866.9,162.2 L867.7,163.8 L868.5,166.1 L869.3,167.1 L870.1,166.8 L870.9,164.8 L871.7,166.9 L872.5,167.9 L873.3,168.4 L874.1,168.3 L874.9,167.6 L875.7,168.1 L876.5,170.1 L877.3,170.5 L878.1,171.4 L878.9,171.5 L879.7,172.1 L880.5,172.8 L881.3,172.9 L882.1,174.7 L882.9,176.6 L883.7,178.0 L884.5,176.5 L885.3,178.2 L886.1,176.5 L886.9,176.4 L887.7,175.4 L888.5,177.0 L889.3,179.1 L890.1,180.2 L890.9,181.5 L891.7,181.3 L892.5,181.2 L893.3,183.2 L894.1,184.4 L894.9,184.6 L895.7,185.9 L896.5,186.4 L897.3,187.6 L898.1,187.2 L898.9,187.2 L899.7,187.7 L900.5,188.8 L901.3,190.9 L902.1,190.9 L902.9,191.9 L903.7,192.3 L904.5,192.5 L905.3,191.2 L906.1,194.0 L906.9,195.3 L907.7,196.2 L908.5,195.2 L909.3,197.4 L910.1,197.5 L910.9,197.7 L911.7,199.0 L912.5,199.6 L913.3,199.7 L914.1,201.0 L914.9,199.8 L915.7,200.6 L916.5,201.7 L917.3,204.4 L918.1,205.3 L918.9,206.1 L919.7,206.3 L920.5,207.9 L921.3,209.1 L922.1,209.4 L922.9,209.8 L923.7,210.3 L924.5,210.2 L925.3,211.4 L926.1,211.6 L926.9,209.8 L927.7,212.3 L928.5,212.8 L929.3,213.3 L930.1,214.7 L930.9,215.9 L931.7,217.0 L932.5,217.3 L933.3,215.7 L934.1,218.9 L934.9,219.2 L935.7,217.6 L936.5,219.1 L937.3,220.9 L938.1,220.7 L938.9,220.9 L939.7,222.3 L940.5,222.3 L941.3,221.2 L942.1,223.4 L942.9,223.5 L943.7,223.4 L944.5,225.9 L945.3,225.8 L946.1,225.1 L946.9,225.8 L947.7,226.2 L948.5,224.7 L949.3,224.8 L950.1,225.4 L950.9,228.2 L951.7,227.0 L952.5,228.4 L953.3,230.3 L954.1,231.3 L954.9,235.1 L955.7,237.5 L956.5,232.4 L957.3,232.0 L958.1,231.2 L958.9,231.3 L959.7,233.6 L960.5,234.2 L961.3,233.9 L962.1,234.3 L962.9,233.5 L963.7,236.3 L964.5,237.0 L965.3,236.2 L966.1,236.6 L966.9,238.7 L967.7,239.6 L968.5,239.5 L969.3,239.4 L970.1,240.1 L970.9,240.8 L971.7,241.9 L972.5,243.3 L973.3,243.4 L974.1,242.7 L974.9,245.5 L975.7,243.0 L976.5,244.2 L977.3,244.9" fill="none" stroke="#c46cb7" stroke-width="2.00" stroke-linejoin="round" stroke-linecap="round"/>
<path d="M651.7,26.6 L652.5,25.6 L653.3,26.6 L654.1,27.9 L654.9,24.9 L655.7,26.1 L656.5,26.2 L657.3,25.8 L658.1,27.2 L658.9,25.7 L659.7,26.6 L660.5,26.0 L661.3,25.1 L662.1,25.7 L662.9,26.2 L663.7,26.2 L664.5,26.1 L665.3,26.1 L666.1,26.3 L666.9,25.1 L667.7,25.1 L668.5,26.3 L669.3,27.3 L670.1,29.2 L670.9,28.5 L671.7,30.8 L672.5,32.8 L673.3,32.8 L674.1,32.1 L674.9,32.6 L675.7,33.5 L676.5,32.6 L677.3,33.3 L678.1,34.3 L678.9,33.1 L679.7,34.2 L680.5,36.0 L681.3,35.4 L682.1,34.2 L682.9,35.5 L683.7,35.3 L684.5,36.7 L685.3,36.8 L686.1,35.3 L686.9,37.2 L687.7,35.6 L688.5,38.0 L689.3,39.4 L690.1,41.3 L690.9,40.9 L691.7,40.5 L692.5,41.7 L693.3,40.9 L694.1,40.4 L694.9,40.6 L695.7,42.1 L696.5,41.6 L697.3,42.3 L698.1,43.3 L698.9,43.2 L699.7,44.2 L700.5,45.7 L701.3,47.0 L702.1,47.2 L702.9,48.6 L703.7,48.2 L704.5,49.4 L705.3,50.5 L706.1,50.2 L706.9,49.1 L707.7,50.0 L708.5,52.5 L709.3,54.3 L710.1,54.2 L710.9,53.7 L711.7,54.5 L712.5,55.3 L713.3,57.1 L714.1,56.9 L714.9,56.4 L715.7,57.6 L716.5,57.6 L717.3,58.4 L718.1,58.9 L718.9,60.2 L719.7,61.6 L720.5,59.5 L721.3,60.3 L722.1,62.1 L722.9,63.5 L723.7,64.5 L724.5,63.9 L725.3,63.5 L726.1,65.7 L726.9,66.9 L727.7,67.4 L728.5,68.8 L729.3,69.3 L730.1,70.4 L730.9,70.9 L731.7,70.1 L732.5,71.5 L733.3,71.9 L734.1,73.5 L734.9,73.6 L735.7,71.6 L736.5,73.9 L737.3,74.9 L738.1,74.4 L738.9,74.4 L739.7,76.7 L740.5,76.1 L741.3,76.8 L742.1,78.1 L742.9,78.2 L743.7,77.8 L744.5,77.2 L745.3,78.1 L746.1,78.4 L746.9,79.3 L747.7,78.4 L748.5,80.1 L749.3,81.5 L750.1,79.4 L750.9,81.1 L751.7,83.1 L752.5,84.1 L753.3,85.0 L754.1,85.2 L754.9,84.1 L755.7,83.4 L756.5,86.5 L757.3,89.0 L758.1,87.9 L758.9,87.9 L759.7,90.3 L760.5,91.6 L761.3,91.6 L762.1,91.6 L762.9,93.3 L763.7,94.0 L764.5,93.9 L765.3,94.3 L766.1,96.4 L766.9,96.7 L767.7,97.3 L768.5,97.6 L769.3,97.7 L770.1,98.7 L770.9,98.5 L771.7,98.1 L772.5,101.2 L773.3,101.4 L774.1,102.4 L774.9,102.2 L775.7,103.0 L776.5,104.5 L777.3,104.1 L778.1,105.8 L778.9,105.1 L779.7,105.9 L780.5,106.2 L781.3,108.0 L782.1,108.9 L782.9,110.2 L783.7,111.3 L784.5,109.5 L785.3,111.6 L786.1,112.9 L786.9,114.2 L787.7,115.3 L788.5,116.8 L789.3,118.0 L790.1,116.3 L790.9,118.1 L791.7,119.0 L792.5,118.7 L793.3,120.3 L794.1,121.8 L794.9,121.6 L795.7,123.7 L796.5,122.3 L797.3,124.1 L798.1,125.0 L798.9,125.4 L799.7,125.8 L800.5,129.1 L801.3,127.9 L802.1,129.3 L802.9,130.0 L803.7,129.3 L804.5,130.8 L805.3,131.7 L806.1,132.4 L806.9,133.4 L807.7,134.2 L808.5,135.2 L809.3,135.6 L810.1,135.1 L810.9,136.6 L811.7,136.2 L812.5,136.6 L813.3,138.7 L814.1,139.3 L814.9,140.1 L815.7,138.7 L816.5,139.0 L817.3,139.6 L818.1,142.0 L818.9,142.4 L819.7,142.2 L820.5,143.0 L821.3,143.5 L822.1,142.5 L822.9,146.8 L823.7,148.1 L824.5,147.4 L825.3,147.9 L826.1,147.7 L826.9,149.9 L827.7,149.1 L828.5,148.1 L829.3,149.9 L830.1,150.9 L830.9,153.0 L831.7,156.4 L832.5,159.1 L833.3,163.4 L834.1,162.1 L834.9,161.2 L835.7,159.6 L836.5,160.3 L837.3,159.4 L838.1,157.1 L838.9,157.4 L839.7,158.1 L840.5,156.7 L841.3,158.2 L842.1,158.9 L842.9,160.9 L843.7,161.5 L844.5,162.3 L845.3,162.3 L846.1,161.3 L846.9,163.0 L847.7,163.5 L848.5,165.1 L849.3,164.5 L850.1,163.3 L850.9,163.4 L851.7,164.1 L852.5,165.4 L853.3,167.5 L854.1,166.9 L854.9,167.9 L855.7,168.2 L856.5,170.7 L857.3,168.6 L858.1,170.2 L858.9,171.0 L859.7,170.8 L860.5,171.0 L861.3,170.9 L862.1,172.2 L862.9,173.5 L863.7,173.5 L864.5,174.6 L865.3,173.8 L866.1,172.4 L866.9,173.8 L867.7,175.5 L868.5,176.6 L869.3,175.1 L870.1,177.0 L870.9,175.3 L871.7,177.6 L872.5,179.2 L873.3,177.5 L874.1,178.7 L874.9,180.6 L875.7,181.8 L876.5,181.3 L877.3,183.0 L878.1,185.0 L878.9,184.6 L879.7,185.0 L880.5,185.6 L881.3,185.5 L882.1,184.5 L882.9,183.8 L883.7,183.6 L884.5,184.5 L885.3,186.5 L886.1,186.2 L886.9,186.6 L887.7,188.2 L888.5,189.2 L889.3,191.5 L890.1,190.9 L890.9,191.7 L891.7,193.6 L892.5,195.2 L893.3,194.5 L894.1,196.0 L894.9,195.6 L895.7,196.6 L896.5,196.7 L897.3,196.2 L898.1,198.5 L898.9,199.0 L899.7,198.2 L900.5,200.7 L901.3,200.3 L902.1,202.4 L902.9,201.9 L903.7,201.1 L904.5,203.1 L905.3,204.8 L906.1,208.2 L906.9,209.4 L907.7,208.6 L908.5,207.6 L909.3,205.5 L910.1,203.7 L910.9,206.0 L911.7,208.3 L912.5,210.4 L913.3,210.4 L914.1,212.6 L914.9,214.7 L915.7,216.2 L916.5,215.4 L917.3,217.2 L918.1,218.3 L918.9,217.8 L919.7,217.8 L920.5,218.8 L921.3,219.5 L922.1,221.1 L922.9,220.0 L923.7,220.8 L924.5,221.4 L925.3,222.0 L926.1,223.3 L926.9,224.4 L927.7,225.8 L928.5,225.9 L929.3,225.5 L930.1,226.8 L930.9,227.6 L931.7,227.5 L932.5,227.9 L933.3,229.8 L934.1,230.8 L934.9,230.1 L935.7,232.1 L936.5,232.6 L937.3,232.3 L938.1,232.7 L938.9,232.7 L939.7,233.3 L940.5,234.4 L941.3,237.3 L942.1,235.8 L942.9,237.2 L943.7,236.8 L944.5,236.0 L945.3,238.5 L946.1,238.1 L946.9,240.5 L947.7,240.4 L948.5,239.6 L949.3,240.3 L950.1,241.7 L950.9,242.3 L951.7,241.2 L952.5,241.8 L953.3,243.1 L954.1,243.6 L954.9,244.1 L955.7,245.0 L956.5,246.1 L957.3,244.9 L958.1,247.1 L958.9,248.0 L959.7,248.7 L960.5,248.2 L961.3,246.2 L962.1,249.5 L962.9,250.4 L963.7,250.0 L964.5,250.8 L965.3,252.0 L966.1,252.3 L966.9,252.6 L967.7,252.0 L968.5,252.1 L969.3,254.7 L970.1,253.8 L970.9,255.0 L971.7,256.4 L972.5,256.3 L973.3,255.1 L974.1,254.7 L974.9,254.7 L975.7,254.8 L976.5,254.7 L977.3,255.5 L978.1,255.6 L978.9,257.0" fill="none" stroke="#1f9448" stroke-width="2.00" stroke-linejoin="round" stroke-linecap="round"/>
<text class="s" stroke="#262626" stroke-width="0.35" x="994.8" y="176.6" font-size="17.0" text-anchor="middle" fill="#262626">a</text>
<text class="s" stroke="#262626" stroke-width="0.35" x="995.6" y="213.3" font-size="17.0" text-anchor="middle" fill="#262626">b</text>
<text class="s" stroke="#262626" stroke-width="0.35" x="995.0" y="232.8" font-size="17.0" text-anchor="middle" fill="#262626">c</text>
<text class="s" stroke="#262626" stroke-width="0.35" x="995.0" y="251.0" font-size="17.0" text-anchor="middle" fill="#262626">d</text>
<text class="s" stroke="#262626" stroke-width="0.35" x="995.0" y="266.0" font-size="17.0" text-anchor="middle" fill="#262626">e</text>
<text class="r" x="772.3" y="376.0" font-size="28.8" fill="#111">(<tspan font-weight="bold">b</tspan>)</text>
</g>
<g id="pc">
<rect x="367.4" y="391.7" width="368.6" height="274.2" fill="none" stroke="#262626" stroke-width="2.10"/>
<path d="M373.0 665.9v6.1M373.0 391.7v6.1M428.1 665.9v6.1M428.1 391.7v6.1M483.1 665.9v6.1M483.1 391.7v6.1M538.2 665.9v6.1M538.2 391.7v6.1M593.3 665.9v6.1M593.3 391.7v6.1M648.4 665.9v6.1M648.4 391.7v6.1M703.5 665.9v6.1M703.5 391.7v6.1M400.5 665.9v3.8M400.5 391.7v3.8M455.6 665.9v3.8M455.6 391.7v3.8M510.7 665.9v3.8M510.7 391.7v3.8M565.8 665.9v3.8M565.8 391.7v3.8M620.8 665.9v3.8M620.8 391.7v3.8M675.9 665.9v3.8M675.9 391.7v3.8M731.0 665.9v3.8M731.0 391.7v3.8M367.4 638.3h-6.1M736.0 638.3h-6.1M367.4 583.5h-6.1M736.0 583.5h-6.1M367.4 528.6h-6.1M736.0 528.6h-6.1M367.4 473.8h-6.1M736.0 473.8h-6.1M367.4 418.9h-6.1M736.0 418.9h-6.1M367.4 665.9h-3.8M736.0 665.9h-3.8M367.4 610.9h-3.8M736.0 610.9h-3.8M367.4 556.0h-3.8M736.0 556.0h-3.8M367.4 501.2h-3.8M736.0 501.2h-3.8M367.4 446.3h-3.8M736.0 446.3h-3.8M367.4 391.7h-3.8M736.0 391.7h-3.8" stroke="#262626" stroke-width="1.90" fill="none"/>
<text class="s" stroke="#262626" stroke-width="0.35" x="357.2" y="643.6" font-size="16.0" text-anchor="end" fill="#262626" textLength="44.0" lengthAdjust="spacingAndGlyphs">36000</text>
<text class="s" stroke="#262626" stroke-width="0.35" x="357.2" y="588.8" font-size="16.0" text-anchor="end" fill="#262626" textLength="44.0" lengthAdjust="spacingAndGlyphs">37000</text>
<text class="s" stroke="#262626" stroke-width="0.35" x="357.2" y="533.9" font-size="16.0" text-anchor="end" fill="#262626" textLength="44.0" lengthAdjust="spacingAndGlyphs">38000</text>
<text class="s" stroke="#262626" stroke-width="0.35" x="357.2" y="479.1" font-size="16.0" text-anchor="end" fill="#262626" textLength="44.0" lengthAdjust="spacingAndGlyphs">39000</text>
<text class="s" stroke="#262626" stroke-width="0.35" x="357.2" y="424.2" font-size="16.0" text-anchor="end" fill="#262626" textLength="44.0" lengthAdjust="spacingAndGlyphs">40000</text>
<text class="s" stroke="#262626" stroke-width="0.35" x="373.0" y="687.8" font-size="15.3" text-anchor="middle" fill="#262626" textLength="8.4" lengthAdjust="spacingAndGlyphs">0</text>
<text class="s" stroke="#262626" stroke-width="0.35" x="428.1" y="687.8" font-size="15.3" text-anchor="middle" fill="#262626" textLength="16.8" lengthAdjust="spacingAndGlyphs">50</text>
<text class="s" stroke="#262626" stroke-width="0.35" x="483.1" y="687.8" font-size="15.3" text-anchor="middle" fill="#262626" textLength="25.2" lengthAdjust="spacingAndGlyphs">100</text>
<text class="s" stroke="#262626" stroke-width="0.35" x="538.2" y="687.8" font-size="15.3" text-anchor="middle" fill="#262626" textLength="25.2" lengthAdjust="spacingAndGlyphs">150</text>
<text class="s" stroke="#262626" stroke-width="0.35" x="593.3" y="687.8" font-size="15.3" text-anchor="middle" fill="#262626" textLength="25.2" lengthAdjust="spacingAndGlyphs">200</text>
<text class="s" stroke="#262626" stroke-width="0.35" x="648.4" y="687.8" font-size="15.3" text-anchor="middle" fill="#262626" textLength="25.2" lengthAdjust="spacingAndGlyphs">250</text>
<text class="s" stroke="#262626" stroke-width="0.35" x="703.5" y="687.8" font-size="15.3" text-anchor="middle" fill="#262626" textLength="25.2" lengthAdjust="spacingAndGlyphs">300</text>
<text class="s" stroke="#262626" stroke-width="0.35" x="302.3" y="653.4" font-size="21.0" text-anchor="start" fill="#262626" textLength="248.1" lengthAdjust="spacingAndGlyphs" transform="rotate(-90 302.3 653.4)">Intensity (Photon Count)</text>
<text class="s" stroke="#262626" stroke-width="0.35" x="513.0" y="720.0" font-size="20.6" text-anchor="start" fill="#262626" textLength="79.0" lengthAdjust="spacingAndGlyphs">Time (s)</text>
<text class="s" stroke="#262626" stroke-width="0.35" x="421.0" y="420.8" font-size="16.6" text-anchor="start" fill="#262626" textLength="162.5" lengthAdjust="spacingAndGlyphs">POD: 0.0003 mg/ml</text>
<path d="M372.8,419.5 L373.6,420.2 L374.4,423.2 L375.2,421.0 L376.0,420.5 L376.8,417.9 L377.6,421.9 L378.4,421.2 L379.2,421.7 L380.0,421.6 L380.8,419.8 L381.6,420.3 L382.4,418.9 L383.2,419.5 L384.0,421.2 L384.8,420.8 L385.6,418.2 L386.4,419.5 L387.2,420.0 L388.0,419.2 L388.8,421.9 L389.6,419.6 L390.4,419.8 L391.2,420.5 L392.0,424.6 L392.8,422.4 L393.6,423.2 L394.4,427.1 L395.2,429.1 L396.0,425.7 L396.8,425.1 L397.6,424.2 L398.4,427.2 L399.2,428.5 L400.0,426.7 L400.8,424.8 L401.6,427.3 L402.4,424.6 L403.2,427.8 L404.0,426.1 L404.8,424.8 L405.6,426.3 L406.4,428.3 L407.2,428.2 L408.0,428.1 L408.8,428.9 L409.6,430.6 L410.4,430.8 L411.2,430.7 L412.0,430.6 L412.8,429.3 L413.6,429.1 L414.4,429.6 L415.2,430.1 L416.0,430.7 L416.8,430.1 L417.6,432.6 L418.4,432.1 L419.2,434.1 L420.0,435.7 L420.8,435.6 L421.6,435.2 L422.4,438.1 L423.2,436.3 L424.0,437.4 L424.8,437.0 L425.6,437.6 L426.4,437.7 L427.2,438.7 L428.0,440.1 L428.8,441.9 L429.6,439.7 L430.4,438.7 L431.2,440.1 L432.0,439.4 L432.8,439.5 L433.6,440.5 L434.4,442.9 L435.2,443.7 L436.0,442.9 L436.8,445.9 L437.6,444.5 L438.4,445.5 L439.2,444.2 L440.0,444.3 L440.8,444.3 L441.6,445.1 L442.4,445.5 L443.2,447.1 L444.0,447.0 L444.8,448.7 L445.6,447.4 L446.4,446.4 L447.2,447.4 L448.0,447.9 L448.8,446.5 L449.6,447.9 L450.4,448.2 L451.2,446.5 L452.0,447.8 L452.8,447.2 L453.6,448.5 L454.4,450.8 L455.2,451.1 L456.0,451.2 L456.8,449.8 L457.6,450.5 L458.4,452.5 L459.2,450.7 L460.0,453.7 L460.8,454.4 L461.6,451.8 L462.4,452.5 L463.2,455.4 L464.0,454.9 L464.8,457.9 L465.6,455.4 L466.4,456.2 L467.2,457.8 L468.0,455.9 L468.8,456.8 L469.6,458.7 L470.4,458.3 L471.2,461.0 L472.0,461.7 L472.8,460.3 L473.6,461.4 L474.4,461.6 L475.2,461.8 L476.0,463.3 L476.8,462.7 L477.6,462.2 L478.4,463.9 L479.2,460.7 L480.0,463.1 L480.8,463.1 L481.6,463.9 L482.4,463.9 L483.2,463.2 L484.0,465.8 L484.8,467.3 L485.6,466.8 L486.4,467.8 L487.2,466.9 L488.0,468.9 L488.8,468.0 L489.6,469.8 L490.4,465.4 L491.2,467.6 L492.0,471.0 L492.8,470.2 L493.6,468.3 L494.4,468.9 L495.2,468.9 L496.0,470.5 L496.8,471.3 L497.6,471.3 L498.4,471.5 L499.2,472.6 L500.0,473.9 L500.8,473.6 L501.6,473.2 L502.4,471.5 L503.2,471.9 L504.0,471.9 L504.8,474.8 L505.6,474.0 L506.4,475.3 L507.2,475.4 L508.0,477.0 L508.8,475.2 L509.6,472.3 L510.4,473.6 L511.2,476.5 L512.0,479.2 L512.8,478.8 L513.6,479.4 L514.4,477.9 L515.2,478.1 L516.0,480.5 L516.8,481.3 L517.6,483.3 L518.4,482.8 L519.2,483.6 L520.0,482.0 L520.8,483.6 L521.6,485.0 L522.4,487.6 L523.2,487.1 L524.0,487.4 L524.8,486.5 L525.6,484.7 L526.4,487.6 L527.2,488.9 L528.0,490.5 L528.8,490.7 L529.6,491.8 L530.4,489.6 L531.2,489.7 L532.0,489.5 L532.8,490.7 L533.6,490.4 L534.4,490.1 L535.2,491.0 L536.0,491.8 L536.8,492.4 L537.6,492.5 L538.4,493.2 L539.2,495.7 L540.0,494.9 L540.8,493.6 L541.6,496.3 L542.4,494.2 L543.2,496.3 L544.0,496.3 L544.8,496.1 L545.6,496.0 L546.4,496.2 L547.2,498.5 L548.0,497.8 L548.8,498.9 L549.6,499.7 L550.4,499.6 L551.2,498.3 L552.0,498.8 L552.8,498.8 L553.6,500.6 L554.4,499.3 L555.2,500.7 L556.0,497.6 L556.8,498.7 L557.6,500.6 L558.4,498.0 L559.2,499.9 L560.0,499.1 L560.8,502.7 L561.6,502.0 L562.4,502.3 L563.2,502.6 L564.0,504.1 L564.8,503.2 L565.6,504.4 L566.4,503.9 L567.2,503.4 L568.0,503.2 L568.8,505.6 L569.6,505.3 L570.4,506.3 L571.2,506.3 L572.0,508.6 L572.8,507.0 L573.6,508.6 L574.4,508.1 L575.2,510.9 L576.0,511.7 L576.8,508.0 L577.6,511.4 L578.4,513.2 L579.2,509.6 L580.0,511.2 L580.8,510.8 L581.6,512.3 L582.4,509.8 L583.2,513.4 L584.0,516.1 L584.8,516.2 L585.6,515.6 L586.4,518.6 L587.2,516.9 L588.0,517.3 L588.8,517.3 L589.6,519.3 L590.4,520.2 L591.2,520.5 L592.0,522.6 L592.8,520.9 L593.6,522.0 L594.4,521.0 L595.2,523.2 L596.0,521.8 L596.8,521.9 L597.6,524.1 L598.4,524.8 L599.2,525.1 L600.0,528.1 L600.8,527.6 L601.6,527.6 L602.4,530.0 L603.2,527.6 L604.0,525.5 L604.8,526.7 L605.6,527.8 L606.4,529.5 L607.2,526.6 L608.0,528.9 L608.8,529.2 L609.6,531.5 L610.4,529.6 L611.2,530.5 L612.0,532.7 L612.8,529.6 L613.6,531.1 L614.4,533.6 L615.2,532.0 L616.0,532.3 L616.8,532.7 L617.6,532.5 L618.4,534.0 L619.2,534.9 L620.0,534.3 L620.8,535.2 L621.6,534.1 L622.4,535.3 L623.2,533.6 L624.0,537.4 L624.8,537.9 L625.6,534.2 L626.4,537.9 L627.2,538.2 L628.0,539.1 L628.8,540.2 L629.6,542.6 L630.4,542.9 L631.2,540.3 L632.0,541.1 L632.8,542.5 L633.6,540.4 L634.4,540.8 L635.2,540.7 L636.0,541.3 L636.8,543.8 L637.6,541.1 L638.4,539.8 L639.2,540.3 L640.0,541.6 L640.8,540.4 L641.6,540.5 L642.4,542.9 L643.2,540.6 L644.0,542.8 L644.8,542.4 L645.6,544.2 L646.4,544.1 L647.2,542.5 L648.0,544.3 L648.8,545.1 L649.6,547.7 L650.4,548.9 L651.2,549.9 L652.0,551.1 L652.8,550.4 L653.6,551.4 L654.4,553.3 L655.2,554.0 L656.0,551.7 L656.8,550.3 L657.6,548.8 L658.4,552.4 L659.2,553.9 L660.0,553.5 L660.8,551.8 L661.6,550.7 L662.4,552.2 L663.2,550.3 L664.0,552.7 L664.8,552.8 L665.6,553.9 L666.4,555.1 L667.2,554.6 L668.0,555.0 L668.8,554.9 L669.6,553.6 L670.4,555.1 L671.2,555.5 L672.0,555.7 L672.8,557.4 L673.6,555.4 L674.4,558.1 L675.2,556.7 L676.0,562.5 L676.8,559.5 L677.6,558.7 L678.4,557.7 L679.2,559.5 L680.0,558.7 L680.8,559.9 L681.6,561.3 L682.4,560.9 L683.2,559.1 L684.0,559.4 L684.8,563.5 L685.6,561.8 L686.4,561.7 L687.2,560.7 L688.0,562.5 L688.8,562.7 L689.6,563.5 L690.4,563.3 L691.2,563.8 L692.0,563.0 L692.8,562.6 L693.6,564.2 L694.4,566.2 L695.2,568.1 L696.0,569.7 L696.8,570.6" fill="none" stroke="#1d1d1d" stroke-width="2.50" stroke-linejoin="round" stroke-linecap="round"/>
<path d="M372.8,419.5 L373.6,418.5 L374.4,418.4 L375.2,419.0 L376.0,420.2 L376.8,419.7 L377.6,419.7 L378.4,421.8 L379.2,421.8 L380.0,422.2 L380.8,419.2 L381.6,421.8 L382.4,420.3 L383.2,422.7 L384.0,421.9 L384.8,420.2 L385.6,420.1 L386.4,420.4 L387.2,420.0 L388.0,421.0 L388.8,416.7 L389.6,418.5 L390.4,419.0 L391.2,422.0 L392.0,420.3 L392.8,421.7 L393.6,421.6 L394.4,424.0 L395.2,423.3 L396.0,422.1 L396.8,421.7 L397.6,420.1 L398.4,421.4 L399.2,421.2 L400.0,424.1 L400.8,425.0 L401.6,422.7 L402.4,423.8 L403.2,424.2 L404.0,423.6 L404.8,424.5 L405.6,426.0 L406.4,427.1 L407.2,426.0 L408.0,423.7 L408.8,425.2 L409.6,425.9 L410.4,427.1 L411.2,427.1 L412.0,428.0 L412.8,427.7 L413.6,425.7 L414.4,427.5 L415.2,428.9 L416.0,430.1 L416.8,430.5 L417.6,431.3 L418.4,432.7 L419.2,433.4 L420.0,432.6 L420.8,432.1 L421.6,433.3 L422.4,433.9 L423.2,435.9 L424.0,434.6 L424.8,434.0 L425.6,432.4 L426.4,435.0 L427.2,433.7 L428.0,435.5 L428.8,438.2 L429.6,437.3 L430.4,438.2 L431.2,438.8 L432.0,436.6 L432.8,436.7 L433.6,438.3 L434.4,439.2 L435.2,442.6 L436.0,443.2 L436.8,444.1 L437.6,444.1 L438.4,443.4 L439.2,441.8 L440.0,443.7 L440.8,443.9 L441.6,447.5 L442.4,448.4 L443.2,445.7 L444.0,446.2 L444.8,446.8 L445.6,444.7 L446.4,446.5 L447.2,448.6 L448.0,449.2 L448.8,451.2 L449.6,451.1 L450.4,449.9 L451.2,449.8 L452.0,450.7 L452.8,451.4 L453.6,453.3 L454.4,452.3 L455.2,452.8 L456.0,455.2 L456.8,452.3 L457.6,453.7 L458.4,450.7 L459.2,452.7 L460.0,454.2 L460.8,455.6 L461.6,457.5 L462.4,456.1 L463.2,458.2 L464.0,456.4 L464.8,458.3 L465.6,457.7 L466.4,460.1 L467.2,457.8 L468.0,460.0 L468.8,458.4 L469.6,461.5 L470.4,462.5 L471.2,464.3 L472.0,461.0 L472.8,463.5 L473.6,462.9 L474.4,462.2 L475.2,463.5 L476.0,464.3 L476.8,463.4 L477.6,462.7 L478.4,464.1 L479.2,463.2 L480.0,462.5 L480.8,464.7 L481.6,465.7 L482.4,466.4 L483.2,466.4 L484.0,467.2 L484.8,465.0 L485.6,466.6 L486.4,467.6 L487.2,466.6 L488.0,468.4 L488.8,470.2 L489.6,469.7 L490.4,471.1 L491.2,469.3 L492.0,469.8 L492.8,471.4 L493.6,469.6 L494.4,471.2 L495.2,472.0 L496.0,475.3 L496.8,474.3 L497.6,473.5 L498.4,474.0 L499.2,472.8 L500.0,474.9 L500.8,474.6 L501.6,473.9 L502.4,477.6 L503.2,474.6 L504.0,475.0 L504.8,477.5 L505.6,478.6 L506.4,478.6 L507.2,478.3 L508.0,481.5 L508.8,480.5 L509.6,482.4 L510.4,483.9 L511.2,482.6 L512.0,481.6 L512.8,481.2 L513.6,481.4 L514.4,483.4 L515.2,480.8 L516.0,484.6 L516.8,484.4 L517.6,486.0 L518.4,483.7 L519.2,484.8 L520.0,486.7 L520.8,488.3 L521.6,490.0 L522.4,487.4 L523.2,486.7 L524.0,488.3 L524.8,488.5 L525.6,488.8 L526.4,490.5 L527.2,490.3 L528.0,489.6 L528.8,488.9 L529.6,491.4 L530.4,493.4 L531.2,493.7 L532.0,491.8 L532.8,492.4 L533.6,495.2 L534.4,496.7 L535.2,494.1 L536.0,495.2 L536.8,494.9 L537.6,497.1 L538.4,497.2 L539.2,497.3 L540.0,497.6 L540.8,500.7 L541.6,500.3 L542.4,499.0 L543.2,501.2 L544.0,501.5 L544.8,503.5 L545.6,503.4 L546.4,501.3 L547.2,503.0 L548.0,505.2 L548.8,506.1 L549.6,505.0 L550.4,504.9 L551.2,505.4 L552.0,507.3 L552.8,506.8 L553.6,506.1 L554.4,505.8 L555.2,506.8 L556.0,509.8 L556.8,511.1 L557.6,511.2 L558.4,509.9 L559.2,510.6 L560.0,511.4 L560.8,511.1 L561.6,512.5 L562.4,513.9 L563.2,512.7 L564.0,514.0 L564.8,513.4 L565.6,513.4 L566.4,517.6 L567.2,517.3 L568.0,515.1 L568.8,516.8 L569.6,515.9 L570.4,516.0 L571.2,517.4 L572.0,518.5 L572.8,518.8 L573.6,519.4 L574.4,520.3 L575.2,520.7 L576.0,521.1 L576.8,523.6 L577.6,523.2 L578.4,522.4 L579.2,520.8 L580.0,521.6 L580.8,519.7 L581.6,523.2 L582.4,523.8 L583.2,523.1 L584.0,524.5 L584.8,523.3 L585.6,524.0 L586.4,525.2 L587.2,525.9 L588.0,527.6 L588.8,527.2 L589.6,527.9 L590.4,525.6 L591.2,527.8 L592.0,527.2 L592.8,527.7 L593.6,528.8 L594.4,528.0 L595.2,529.7 L596.0,531.9 L596.8,532.1 L597.6,533.5 L598.4,533.4 L599.2,531.2 L600.0,530.1 L600.8,532.1 L601.6,535.4 L602.4,532.2 L603.2,533.1 L604.0,531.2 L604.8,532.4 L605.6,532.9 L606.4,534.2 L607.2,536.1 L608.0,534.5 L608.8,533.8 L609.6,538.0 L610.4,536.2 L611.2,534.3 L612.0,537.1 L612.8,536.2 L613.6,537.6 L614.4,538.9 L615.2,539.8 L616.0,539.7 L616.8,541.9 L617.6,542.0 L618.4,542.7 L619.2,542.4 L620.0,541.6 L620.8,544.1 L621.6,543.9 L622.4,541.6 L623.2,543.1 L624.0,543.6 L624.8,547.1 L625.6,545.4 L626.4,542.8 L627.2,545.2 L628.0,543.9 L628.8,545.4 L629.6,546.1 L630.4,547.0 L631.2,549.2 L632.0,549.5 L632.8,548.9 L633.6,547.7 L634.4,549.3 L635.2,548.4 L636.0,548.0 L636.8,547.4 L637.6,549.6 L638.4,551.0 L639.2,554.6 L640.0,550.8 L640.8,553.1 L641.6,554.8 L642.4,555.8 L643.2,555.5 L644.0,559.1 L644.8,561.1 L645.6,563.2 L646.4,564.2 L647.2,561.7 L648.0,560.4 L648.8,559.1 L649.6,561.6 L650.4,559.4 L651.2,560.2 L652.0,561.2 L652.8,561.0 L653.6,558.6 L654.4,560.6 L655.2,563.4 L656.0,564.4 L656.8,562.2 L657.6,562.6 L658.4,562.4 L659.2,563.9 L660.0,562.6 L660.8,565.9 L661.6,567.9 L662.4,566.4 L663.2,565.8 L664.0,570.2 L664.8,574.1 L665.6,578.5 L666.4,579.0 L667.2,578.7 L668.0,581.5 L668.8,579.1 L669.6,578.8 L670.4,572.4 L671.2,569.2 L672.0,571.0 L672.8,570.0 L673.6,570.5 L674.4,569.8 L675.2,571.5 L676.0,570.8 L676.8,571.1 L677.6,573.2 L678.4,573.8 L679.2,573.5 L680.0,573.6 L680.8,572.7 L681.6,573.7 L682.4,575.8 L683.2,576.0 L684.0,576.4 L684.8,578.0 L685.6,577.1 L686.4,578.2 L687.2,577.2 L688.0,580.7 L688.8,577.9 L689.6,579.5 L690.4,581.7 L691.2,583.9 L692.0,582.9 L692.8,583.8 L693.6,582.8 L694.4,581.9 L695.2,583.9 L696.0,584.0" fill="none" stroke="#e2363a" stroke-width="2.50" stroke-linejoin="round" stroke-linecap="round"/>
<path d="M372.8,418.0 L373.6,418.3 L374.4,417.1 L375.2,419.8 L376.0,419.0 L376.8,419.8 L377.6,419.5 L378.4,419.4 L379.2,421.8 L380.0,420.4 L380.8,420.9 L381.6,420.5 L382.4,422.4 L383.2,420.3 L384.0,419.2 L384.8,418.9 L385.6,420.8 L386.4,418.3 L387.2,421.7 L388.0,421.7 L388.8,420.6 L389.6,425.7 L390.4,437.9 L391.2,429.7 L392.0,424.0 L392.8,425.6 L393.6,425.3 L394.4,423.4 L395.2,423.8 L396.0,424.7 L396.8,425.6 L397.6,423.3 L398.4,424.1 L399.2,422.2 L400.0,424.0 L400.8,426.8 L401.6,427.5 L402.4,427.0 L403.2,426.1 L404.0,426.2 L404.8,424.7 L405.6,426.1 L406.4,427.2 L407.2,429.0 L408.0,428.2 L408.8,425.7 L409.6,428.3 L410.4,429.3 L411.2,429.2 L412.0,428.7 L412.8,433.1 L413.6,433.6 L414.4,432.6 L415.2,434.1 L416.0,434.2 L416.8,436.6 L417.6,433.5 L418.4,434.1 L419.2,434.9 L420.0,434.0 L420.8,436.0 L421.6,437.0 L422.4,437.3 L423.2,436.8 L424.0,437.7 L424.8,436.3 L425.6,439.1 L426.4,438.2 L427.2,437.4 L428.0,440.5 L428.8,439.5 L429.6,439.8 L430.4,441.1 L431.2,438.7 L432.0,442.7 L432.8,440.1 L433.6,440.7 L434.4,442.2 L435.2,443.7 L436.0,442.1 L436.8,444.9 L437.6,445.4 L438.4,446.9 L439.2,446.5 L440.0,447.1 L440.8,448.6 L441.6,447.1 L442.4,447.2 L443.2,445.4 L444.0,449.0 L444.8,448.6 L445.6,452.4 L446.4,451.2 L447.2,453.4 L448.0,451.3 L448.8,450.7 L449.6,454.6 L450.4,452.7 L451.2,451.0 L452.0,452.7 L452.8,452.7 L453.6,454.1 L454.4,458.7 L455.2,457.4 L456.0,457.5 L456.8,459.2 L457.6,459.9 L458.4,459.7 L459.2,459.8 L460.0,458.1 L460.8,458.0 L461.6,460.7 L462.4,462.1 L463.2,460.8 L464.0,461.3 L464.8,459.5 L465.6,462.3 L466.4,459.6 L467.2,462.6 L468.0,463.2 L468.8,464.3 L469.6,466.8 L470.4,465.2 L471.2,465.4 L472.0,466.2 L472.8,465.4 L473.6,466.6 L474.4,469.0 L475.2,470.8 L476.0,472.5 L476.8,471.3 L477.6,472.5 L478.4,472.4 L479.2,470.4 L480.0,469.1 L480.8,472.8 L481.6,474.1 L482.4,474.3 L483.2,471.1 L484.0,473.9 L484.8,476.8 L485.6,476.2 L486.4,475.7 L487.2,479.1 L488.0,477.5 L488.8,478.5 L489.6,480.2 L490.4,479.3 L491.2,479.4 L492.0,478.1 L492.8,480.0 L493.6,478.8 L494.4,475.9 L495.2,478.9 L496.0,479.9 L496.8,480.4 L497.6,483.3 L498.4,480.6 L499.2,483.7 L500.0,481.4 L500.8,483.3 L501.6,483.7 L502.4,484.3 L503.2,486.5 L504.0,484.5 L504.8,485.2 L505.6,486.0 L506.4,488.5 L507.2,488.0 L508.0,488.0 L508.8,487.6 L509.6,486.6 L510.4,486.8 L511.2,489.9 L512.0,490.7 L512.8,491.1 L513.6,493.6 L514.4,490.2 L515.2,491.3 L516.0,490.2 L516.8,488.0 L517.6,490.4 L518.4,493.4 L519.2,494.7 L520.0,494.3 L520.8,495.0 L521.6,496.8 L522.4,497.1 L523.2,495.9 L524.0,497.2 L524.8,497.8 L525.6,499.7 L526.4,498.1 L527.2,497.2 L528.0,500.3 L528.8,500.4 L529.6,500.9 L530.4,500.3 L531.2,501.9 L532.0,502.9 L532.8,501.0 L533.6,504.4 L534.4,503.0 L535.2,503.4 L536.0,503.0 L536.8,506.1 L537.6,505.8 L538.4,506.7 L539.2,506.7 L540.0,506.6 L540.8,507.7 L541.6,508.8 L542.4,508.2 L543.2,509.2 L544.0,510.5 L544.8,509.9 L545.6,512.0 L546.4,510.6 L547.2,513.0 L548.0,512.2 L548.8,512.3 L549.6,513.5 L550.4,513.1 L551.2,513.7 L552.0,517.7 L552.8,515.9 L553.6,517.0 L554.4,516.2 L555.2,517.5 L556.0,518.0 L556.8,520.0 L557.6,520.6 L558.4,520.1 L559.2,520.4 L560.0,519.6 L560.8,520.9 L561.6,517.9 L562.4,521.5 L563.2,520.0 L564.0,521.9 L564.8,522.3 L565.6,523.6 L566.4,523.1 L567.2,524.6 L568.0,525.3 L568.8,526.1 L569.6,524.2 L570.4,524.1 L571.2,526.8 L572.0,527.2 L572.8,528.1 L573.6,530.5 L574.4,530.9 L575.2,529.7 L576.0,529.7 L576.8,533.1 L577.6,533.0 L578.4,530.4 L579.2,534.7 L580.0,534.4 L580.8,534.6 L581.6,536.7 L582.4,535.3 L583.2,534.9 L584.0,534.9 L584.8,535.6 L585.6,537.5 L586.4,539.2 L587.2,540.8 L588.0,539.7 L588.8,540.4 L589.6,540.5 L590.4,542.1 L591.2,543.5 L592.0,541.9 L592.8,541.8 L593.6,543.1 L594.4,546.2 L595.2,544.4 L596.0,543.9 L596.8,546.4 L597.6,541.9 L598.4,544.2 L599.2,544.3 L600.0,544.3 L600.8,547.4 L601.6,548.4 L602.4,549.7 L603.2,546.6 L604.0,546.3 L604.8,548.0 L605.6,550.6 L606.4,551.6 L607.2,549.0 L608.0,550.5 L608.8,552.5 L609.6,551.1 L610.4,552.3 L611.2,551.7 L612.0,553.4 L612.8,553.1 L613.6,552.6 L614.4,552.5 L615.2,555.0 L616.0,555.2 L616.8,557.0 L617.6,555.1 L618.4,554.4 L619.2,556.2 L620.0,556.3 L620.8,559.8 L621.6,559.6 L622.4,556.7 L623.2,556.2 L624.0,558.2 L624.8,558.9 L625.6,559.2 L626.4,559.8 L627.2,564.2 L628.0,563.7 L628.8,564.3 L629.6,565.7 L630.4,563.7 L631.2,560.4 L632.0,563.0 L632.8,562.1 L633.6,565.7 L634.4,564.2 L635.2,564.4 L636.0,567.0 L636.8,563.8 L637.6,566.2 L638.4,566.8 L639.2,568.3 L640.0,567.6 L640.8,567.7 L641.6,569.5 L642.4,572.3 L643.2,572.6 L644.0,572.0 L644.8,571.2 L645.6,571.8 L646.4,573.9 L647.2,573.0 L648.0,575.1 L648.8,574.7 L649.6,572.9 L650.4,576.9 L651.2,575.0 L652.0,575.6 L652.8,576.9 L653.6,579.5 L654.4,578.6 L655.2,577.5 L656.0,578.5 L656.8,578.8 L657.6,579.3 L658.4,580.5 L659.2,582.9 L660.0,580.2 L660.8,583.0 L661.6,584.0 L662.4,583.3 L663.2,584.3 L664.0,583.6 L664.8,582.3 L665.6,583.0 L666.4,587.5 L667.2,589.7 L668.0,587.8 L668.8,586.8 L669.6,586.8 L670.4,587.9 L671.2,590.1 L672.0,591.6 L672.8,589.8 L673.6,588.2 L674.4,589.3 L675.2,591.8 L676.0,593.3 L676.8,594.4 L677.6,594.0 L678.4,596.8 L679.2,595.9 L680.0,593.7 L680.8,594.7 L681.6,594.6 L682.4,593.4 L683.2,598.1 L684.0,595.9 L684.8,596.1 L685.6,597.1 L686.4,599.2 L687.2,598.4 L688.0,598.9 L688.8,598.3 L689.6,599.9 L690.4,603.4 L691.2,600.7 L692.0,601.1 L692.8,602.4 L693.6,603.2 L694.4,600.9 L695.2,602.6 L696.0,603.6" fill="none" stroke="#3a4ea6" stroke-width="2.50" stroke-linejoin="round" stroke-linecap="round"/>
<path d="M372.8,423.6 L373.6,423.3 L374.4,423.5 L375.2,422.5 L376.0,420.8 L376.8,423.7 L377.6,423.9 L378.4,421.6 L379.2,424.3 L380.0,422.0 L380.8,421.2 L381.6,421.5 L382.4,420.3 L383.2,422.0 L384.0,422.1 L384.8,421.8 L385.6,422.4 L386.4,421.7 L387.2,422.2 L388.0,421.2 L388.8,422.1 L389.6,419.1 L390.4,423.0 L391.2,421.7 L392.0,422.1 L392.8,422.7 L393.6,422.6 L394.4,423.6 L395.2,422.8 L396.0,425.1 L396.8,425.4 L397.6,426.9 L398.4,427.5 L399.2,425.9 L400.0,424.2 L400.8,425.3 L401.6,428.9 L402.4,428.5 L403.2,429.4 L404.0,429.6 L404.8,429.1 L405.6,429.2 L406.4,429.1 L407.2,427.4 L408.0,429.8 L408.8,433.7 L409.6,433.0 L410.4,432.2 L411.2,432.5 L412.0,430.5 L412.8,433.0 L413.6,436.1 L414.4,434.8 L415.2,436.9 L416.0,435.2 L416.8,435.9 L417.6,437.2 L418.4,435.1 L419.2,436.2 L420.0,434.7 L420.8,435.1 L421.6,439.6 L422.4,436.4 L423.2,438.5 L424.0,440.2 L424.8,441.3 L425.6,441.1 L426.4,441.2 L427.2,442.5 L428.0,441.1 L428.8,440.8 L429.6,441.9 L430.4,443.2 L431.2,447.3 L432.0,447.3 L432.8,446.7 L433.6,446.7 L434.4,446.4 L435.2,445.2 L436.0,446.4 L436.8,446.2 L437.6,449.6 L438.4,448.7 L439.2,450.2 L440.0,451.5 L440.8,450.8 L441.6,450.3 L442.4,449.1 L443.2,453.3 L444.0,453.2 L444.8,453.5 L445.6,450.5 L446.4,453.6 L447.2,459.6 L448.0,468.6 L448.8,460.0 L449.6,457.8 L450.4,456.9 L451.2,456.7 L452.0,457.2 L452.8,458.3 L453.6,458.6 L454.4,459.9 L455.2,458.4 L456.0,457.6 L456.8,460.0 L457.6,460.2 L458.4,460.7 L459.2,462.0 L460.0,462.5 L460.8,463.9 L461.6,466.2 L462.4,466.4 L463.2,466.6 L464.0,467.2 L464.8,467.5 L465.6,469.6 L466.4,469.6 L467.2,469.6 L468.0,471.9 L468.8,471.5 L469.6,472.4 L470.4,473.8 L471.2,471.3 L472.0,470.4 L472.8,473.4 L473.6,470.5 L474.4,472.1 L475.2,472.9 L476.0,475.2 L476.8,474.1 L477.6,476.0 L478.4,478.1 L479.2,477.1 L480.0,476.7 L480.8,478.5 L481.6,478.0 L482.4,480.1 L483.2,481.2 L484.0,480.4 L484.8,478.9 L485.6,479.7 L486.4,479.0 L487.2,478.8 L488.0,482.5 L488.8,483.6 L489.6,484.2 L490.4,484.6 L491.2,485.8 L492.0,483.2 L492.8,483.0 L493.6,485.4 L494.4,482.3 L495.2,484.8 L496.0,487.5 L496.8,488.4 L497.6,488.8 L498.4,489.0 L499.2,489.3 L500.0,490.6 L500.8,489.6 L501.6,489.8 L502.4,491.0 L503.2,493.2 L504.0,491.0 L504.8,491.0 L505.6,492.3 L506.4,492.3 L507.2,494.3 L508.0,493.3 L508.8,494.7 L509.6,495.0 L510.4,496.9 L511.2,500.3 L512.0,500.3 L512.8,499.3 L513.6,500.3 L514.4,500.3 L515.2,500.7 L516.0,500.5 L516.8,501.5 L517.6,501.2 L518.4,502.8 L519.2,502.2 L520.0,502.6 L520.8,505.4 L521.6,505.0 L522.4,505.4 L523.2,509.2 L524.0,507.2 L524.8,508.3 L525.6,506.3 L526.4,508.4 L527.2,507.3 L528.0,509.5 L528.8,510.5 L529.6,507.2 L530.4,511.8 L531.2,510.8 L532.0,513.4 L532.8,512.1 L533.6,517.4 L534.4,515.7 L535.2,514.9 L536.0,515.1 L536.8,515.9 L537.6,517.0 L538.4,518.9 L539.2,521.1 L540.0,520.6 L540.8,521.1 L541.6,519.1 L542.4,516.6 L543.2,518.9 L544.0,521.8 L544.8,522.2 L545.6,522.9 L546.4,522.3 L547.2,521.7 L548.0,519.7 L548.8,523.5 L549.6,523.7 L550.4,524.8 L551.2,525.2 L552.0,526.4 L552.8,526.2 L553.6,527.4 L554.4,528.4 L555.2,528.3 L556.0,528.4 L556.8,530.8 L557.6,530.1 L558.4,530.6 L559.2,529.7 L560.0,531.0 L560.8,535.5 L561.6,537.1 L562.4,533.5 L563.2,536.7 L564.0,536.2 L564.8,537.0 L565.6,536.2 L566.4,537.8 L567.2,538.4 L568.0,537.1 L568.8,538.6 L569.6,535.8 L570.4,537.3 L571.2,539.2 L572.0,540.0 L572.8,540.8 L573.6,541.1 L574.4,540.2 L575.2,542.9 L576.0,540.0 L576.8,538.4 L577.6,540.9 L578.4,542.5 L579.2,542.6 L580.0,540.1 L580.8,541.8 L581.6,541.9 L582.4,542.9 L583.2,546.2 L584.0,546.9 L584.8,549.5 L585.6,546.6 L586.4,547.3 L587.2,548.3 L588.0,549.7 L588.8,549.2 L589.6,550.8 L590.4,551.1 L591.2,549.8 L592.0,551.7 L592.8,555.9 L593.6,556.5 L594.4,558.0 L595.2,556.5 L596.0,564.3 L596.8,577.9 L597.6,570.8 L598.4,563.0 L599.2,559.8 L600.0,557.6 L600.8,557.3 L601.6,561.3 L602.4,560.2 L603.2,559.8 L604.0,562.1 L604.8,560.4 L605.6,563.2 L606.4,561.5 L607.2,559.6 L608.0,559.2 L608.8,563.4 L609.6,563.6 L610.4,564.5 L611.2,565.4 L612.0,564.3 L612.8,565.3 L613.6,566.0 L614.4,565.7 L615.2,571.3 L616.0,568.5 L616.8,568.5 L617.6,573.0 L618.4,570.0 L619.2,568.3 L620.0,571.5 L620.8,571.7 L621.6,571.6 L622.4,571.7 L623.2,573.0 L624.0,572.6 L624.8,574.7 L625.6,576.2 L626.4,577.3 L627.2,576.6 L628.0,577.2 L628.8,578.4 L629.6,578.7 L630.4,577.5 L631.2,581.9 L632.0,580.7 L632.8,578.5 L633.6,579.5 L634.4,579.2 L635.2,582.3 L636.0,580.9 L636.8,581.3 L637.6,580.6 L638.4,581.0 L639.2,585.0 L640.0,582.5 L640.8,584.0 L641.6,585.6 L642.4,585.3 L643.2,586.3 L644.0,588.8 L644.8,585.9 L645.6,586.8 L646.4,588.8 L647.2,591.6 L648.0,591.8 L648.8,589.5 L649.6,589.3 L650.4,589.9 L651.2,590.7 L652.0,592.9 L652.8,592.7 L653.6,593.1 L654.4,594.9 L655.2,593.7 L656.0,594.5 L656.8,595.8 L657.6,593.6 L658.4,596.9 L659.2,596.1 L660.0,598.0 L660.8,598.3 L661.6,599.0 L662.4,600.9 L663.2,600.8 L664.0,599.9 L664.8,599.1 L665.6,599.4 L666.4,603.5 L667.2,603.2 L668.0,604.9 L668.8,603.3 L669.6,604.0 L670.4,604.7 L671.2,605.6 L672.0,605.9 L672.8,607.9 L673.6,607.0 L674.4,608.9 L675.2,609.2 L676.0,611.2 L676.8,609.1 L677.6,609.7 L678.4,610.4 L679.2,611.1 L680.0,612.3 L680.8,610.8 L681.6,613.8 L682.4,615.0 L683.2,613.0 L684.0,611.9 L684.8,614.0 L685.6,612.5 L686.4,611.6 L687.2,614.0 L688.0,615.9 L688.8,617.5 L689.6,619.0 L690.4,618.7 L691.2,620.4 L692.0,619.8 L692.8,622.3 L693.6,622.5 L694.4,623.0 L695.2,621.5 L696.0,619.8 L696.8,623.6 L697.6,618.6 L698.4,619.2" fill="none" stroke="#c46cb7" stroke-width="2.50" stroke-linejoin="round" stroke-linecap="round"/>
<path d="M372.8,418.0 L373.6,418.2 L374.4,416.0 L375.2,414.2 L376.0,414.7 L376.8,412.9 L377.6,414.4 L378.4,415.2 L379.2,413.2 L380.0,415.7 L380.8,417.9 L381.6,414.3 L382.4,414.0 L383.2,412.5 L384.0,414.5 L384.8,412.4 L385.6,413.0 L386.4,412.8 L387.2,411.9 L388.0,410.9 L388.8,409.6 L389.6,408.7 L390.4,414.5 L391.2,424.7 L392.0,418.8 L392.8,418.0 L393.6,419.9 L394.4,420.9 L395.2,417.1 L396.0,418.3 L396.8,417.5 L397.6,416.2 L398.4,415.4 L399.2,416.0 L400.0,417.2 L400.8,415.5 L401.6,418.3 L402.4,417.0 L403.2,418.4 L404.0,419.2 L404.8,419.1 L405.6,418.7 L406.4,420.4 L407.2,421.8 L408.0,420.7 L408.8,420.7 L409.6,423.9 L410.4,423.6 L411.2,424.2 L412.0,425.4 L412.8,425.3 L413.6,425.0 L414.4,425.6 L415.2,424.8 L416.0,426.5 L416.8,427.5 L417.6,428.7 L418.4,427.6 L419.2,426.9 L420.0,427.0 L420.8,428.9 L421.6,429.3 L422.4,430.0 L423.2,432.6 L424.0,431.2 L424.8,432.5 L425.6,432.9 L426.4,431.4 L427.2,433.4 L428.0,432.4 L428.8,434.4 L429.6,433.9 L430.4,433.9 L431.2,436.2 L432.0,437.4 L432.8,435.2 L433.6,435.8 L434.4,438.0 L435.2,438.3 L436.0,436.5 L436.8,436.7 L437.6,437.6 L438.4,440.1 L439.2,442.4 L440.0,441.0 L440.8,442.4 L441.6,443.2 L442.4,442.7 L443.2,444.4 L444.0,445.7 L444.8,444.4 L445.6,445.7 L446.4,445.4 L447.2,448.3 L448.0,447.5 L448.8,448.9 L449.6,449.5 L450.4,449.4 L451.2,453.1 L452.0,453.1 L452.8,450.9 L453.6,455.0 L454.4,454.5 L455.2,455.1 L456.0,455.1 L456.8,457.7 L457.6,458.2 L458.4,457.5 L459.2,456.6 L460.0,460.2 L460.8,458.6 L461.6,461.0 L462.4,462.9 L463.2,463.5 L464.0,464.3 L464.8,465.6 L465.6,466.5 L466.4,463.7 L467.2,466.1 L468.0,466.9 L468.8,466.0 L469.6,465.4 L470.4,468.2 L471.2,469.0 L472.0,469.1 L472.8,471.2 L473.6,468.7 L474.4,471.2 L475.2,472.5 L476.0,474.8 L476.8,473.7 L477.6,475.1 L478.4,473.4 L479.2,474.2 L480.0,476.4 L480.8,477.3 L481.6,479.9 L482.4,477.5 L483.2,477.3 L484.0,479.0 L484.8,479.1 L485.6,479.2 L486.4,478.3 L487.2,478.5 L488.0,477.4 L488.8,481.6 L489.6,483.8 L490.4,484.3 L491.2,487.0 L492.0,483.2 L492.8,482.9 L493.6,486.8 L494.4,486.7 L495.2,486.1 L496.0,485.2 L496.8,487.4 L497.6,488.1 L498.4,487.8 L499.2,488.1 L500.0,488.6 L500.8,490.2 L501.6,491.7 L502.4,493.2 L503.2,491.9 L504.0,493.8 L504.8,494.4 L505.6,495.4 L506.4,491.4 L507.2,494.7 L508.0,495.9 L508.8,497.6 L509.6,498.3 L510.4,498.0 L511.2,496.9 L512.0,496.2 L512.8,497.7 L513.6,500.5 L514.4,500.9 L515.2,500.4 L516.0,503.2 L516.8,503.3 L517.6,504.2 L518.4,506.6 L519.2,505.2 L520.0,508.0 L520.8,506.6 L521.6,509.0 L522.4,508.5 L523.2,511.0 L524.0,511.3 L524.8,511.5 L525.6,511.3 L526.4,510.3 L527.2,512.9 L528.0,513.3 L528.8,516.2 L529.6,515.8 L530.4,516.7 L531.2,517.0 L532.0,516.5 L532.8,517.6 L533.6,518.3 L534.4,518.3 L535.2,517.5 L536.0,517.1 L536.8,518.2 L537.6,519.2 L538.4,519.9 L539.2,519.8 L540.0,523.4 L540.8,524.5 L541.6,524.8 L542.4,524.6 L543.2,523.2 L544.0,523.8 L544.8,526.2 L545.6,525.6 L546.4,527.3 L547.2,524.8 L548.0,524.4 L548.8,525.3 L549.6,528.7 L550.4,526.8 L551.2,530.7 L552.0,529.1 L552.8,531.8 L553.6,531.7 L554.4,530.8 L555.2,532.9 L556.0,531.6 L556.8,532.5 L557.6,532.6 L558.4,537.5 L559.2,536.9 L560.0,535.9 L560.8,538.6 L561.6,538.2 L562.4,537.2 L563.2,541.2 L564.0,539.1 L564.8,538.6 L565.6,538.8 L566.4,542.7 L567.2,543.7 L568.0,544.8 L568.8,541.4 L569.6,544.4 L570.4,544.9 L571.2,546.9 L572.0,545.8 L572.8,544.3 L573.6,544.8 L574.4,548.6 L575.2,548.6 L576.0,547.8 L576.8,547.3 L577.6,548.1 L578.4,548.3 L579.2,549.2 L580.0,549.6 L580.8,550.2 L581.6,550.1 L582.4,552.2 L583.2,554.2 L584.0,552.5 L584.8,551.9 L585.6,553.7 L586.4,552.7 L587.2,555.5 L588.0,556.0 L588.8,555.2 L589.6,555.7 L590.4,556.5 L591.2,559.4 L592.0,557.9 L592.8,559.5 L593.6,560.7 L594.4,560.6 L595.2,562.0 L596.0,561.3 L596.8,562.4 L597.6,566.2 L598.4,566.9 L599.2,567.1 L600.0,567.0 L600.8,568.7 L601.6,570.0 L602.4,568.7 L603.2,568.2 L604.0,569.5 L604.8,566.5 L605.6,567.8 L606.4,572.0 L607.2,573.9 L608.0,573.9 L608.8,573.8 L609.6,573.0 L610.4,577.0 L611.2,574.4 L612.0,575.9 L612.8,577.8 L613.6,577.2 L614.4,576.1 L615.2,576.7 L616.0,576.7 L616.8,577.7 L617.6,576.7 L618.4,576.0 L619.2,581.2 L620.0,578.4 L620.8,580.8 L621.6,583.2 L622.4,580.4 L623.2,578.2 L624.0,581.9 L624.8,580.8 L625.6,581.0 L626.4,583.3 L627.2,581.5 L628.0,582.1 L628.8,583.2 L629.6,581.5 L630.4,584.2 L631.2,585.1 L632.0,585.8 L632.8,585.9 L633.6,588.2 L634.4,588.0 L635.2,588.0 L636.0,587.8 L636.8,589.4 L637.6,589.5 L638.4,587.2 L639.2,590.4 L640.0,592.8 L640.8,593.0 L641.6,595.2 L642.4,590.7 L643.2,593.4 L644.0,593.2 L644.8,594.1 L645.6,594.8 L646.4,594.6 L647.2,595.4 L648.0,596.4 L648.8,596.7 L649.6,597.8 L650.4,599.0 L651.2,598.0 L652.0,600.0 L652.8,601.1 L653.6,600.0 L654.4,602.5 L655.2,601.1 L656.0,604.7 L656.8,605.3 L657.6,605.7 L658.4,606.7 L659.2,605.7 L660.0,605.8 L660.8,607.2 L661.6,607.6 L662.4,609.0 L663.2,607.5 L664.0,607.5 L664.8,610.3 L665.6,608.1 L666.4,612.8 L667.2,610.9 L668.0,612.6 L668.8,612.5 L669.6,612.2 L670.4,612.9 L671.2,613.7 L672.0,614.0 L672.8,614.9 L673.6,616.0 L674.4,613.5 L675.2,614.8 L676.0,615.1 L676.8,619.0 L677.6,619.0 L678.4,617.5 L679.2,617.7 L680.0,619.8 L680.8,621.4 L681.6,622.6 L682.4,621.5 L683.2,622.2 L684.0,620.3 L684.8,620.0 L685.6,622.4 L686.4,622.9 L687.2,624.3 L688.0,624.7 L688.8,625.5 L689.6,626.9 L690.4,625.0 L691.2,626.0 L692.0,626.7 L692.8,628.3 L693.6,627.8 L694.4,626.9 L695.2,628.4 L696.0,627.9 L696.8,633.8 L697.6,631.5 L698.4,630.9" fill="none" stroke="#1f9448" stroke-width="2.50" stroke-linejoin="round" stroke-linecap="round"/>
<text class="s" stroke="#262626" stroke-width="0.35" x="706.9" y="575.0" font-size="16.5" text-anchor="middle" fill="#262626">a</text>
<text class="s" stroke="#262626" stroke-width="0.35" x="707.6" y="589.8" font-size="16.5" text-anchor="middle" fill="#262626">b</text>
<text class="s" stroke="#262626" stroke-width="0.35" x="706.8" y="606.8" font-size="16.5" text-anchor="middle" fill="#262626">c</text>
<text class="s" stroke="#262626" stroke-width="0.35" x="706.8" y="624.5" font-size="16.5" text-anchor="middle" fill="#262626">d</text>
<text class="s" stroke="#262626" stroke-width="0.35" x="707.0" y="637.8" font-size="16.5" text-anchor="middle" fill="#262626">e</text>
<text class="r" x="497.0" y="765.4" font-size="28.5" fill="#111">(<tspan font-weight="bold">c</tspan>)</text>
</g>
<rect x="280" y="728.8" width="464.5" height="1" fill="#b4b4b4"/>
</g>
</svg></body></html>
